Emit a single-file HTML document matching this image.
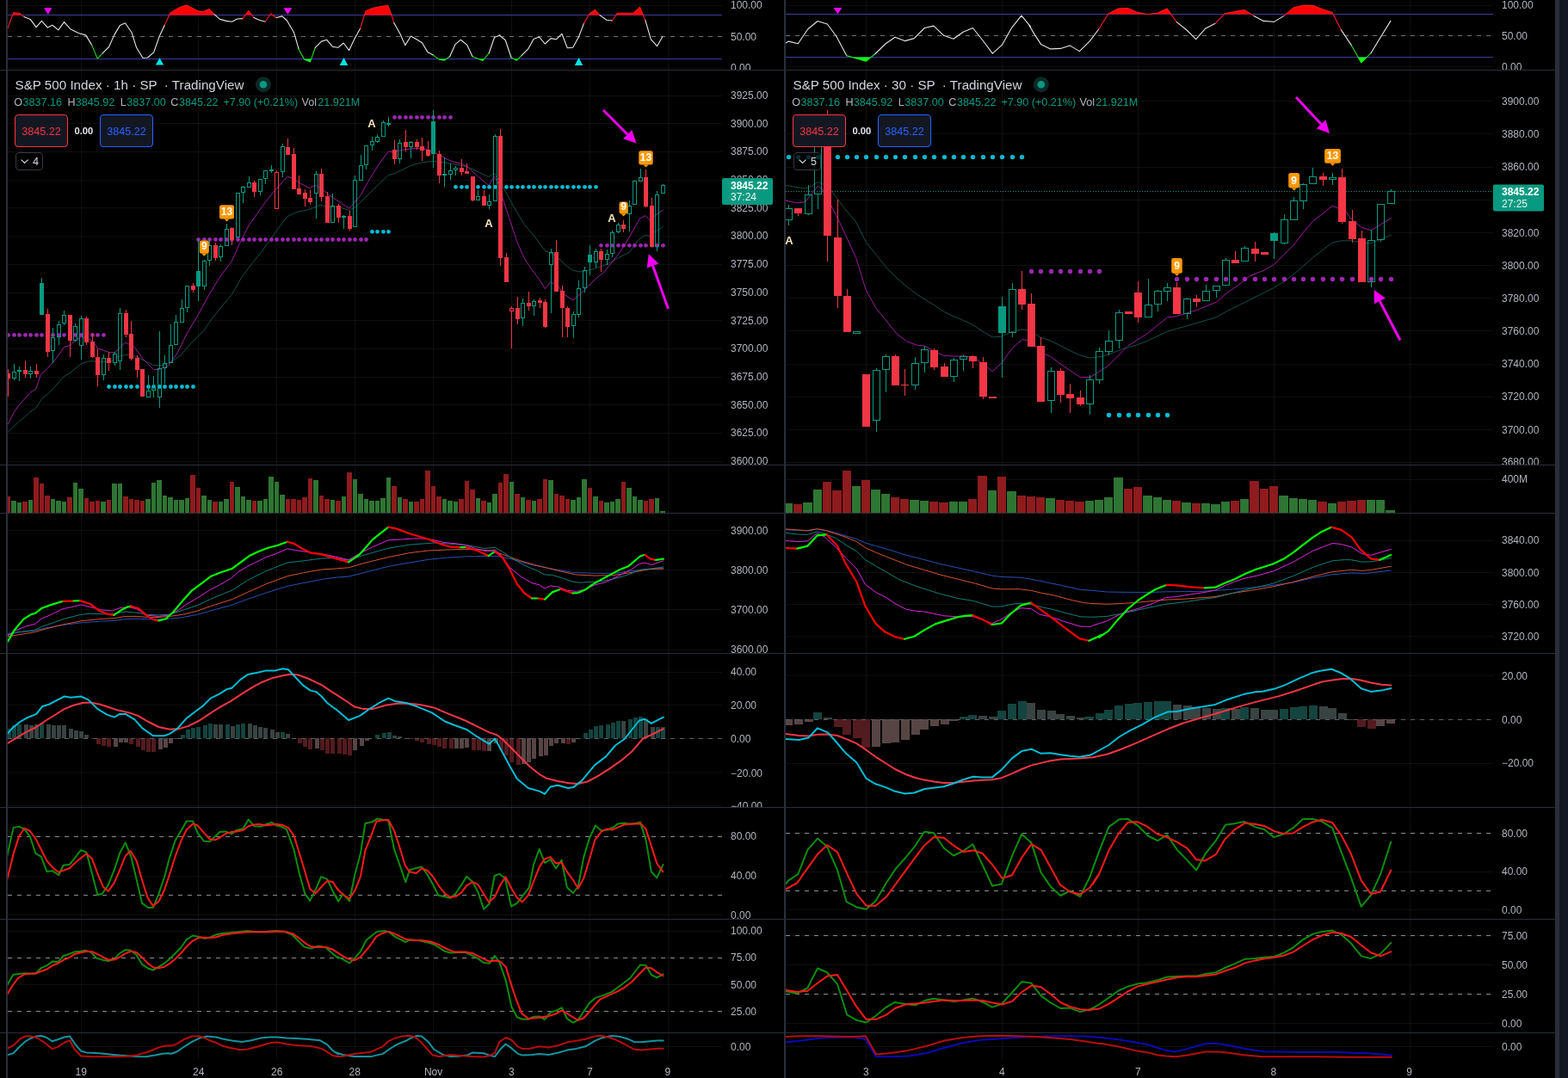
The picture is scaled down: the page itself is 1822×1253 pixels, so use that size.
<!DOCTYPE html>
<html><head><meta charset="utf-8"><title>S&amp;P 500 Index charts</title>
<style>
html,body{margin:0;padding:0;background:#000;overflow:hidden;}
svg{display:block;}
text{font-family:"Liberation Sans",Arial,sans-serif;}
</style></head><body>
<svg width="1822" height="1253" viewBox="0 0 1822 1253">
<rect width="1822" height="1253" fill="#000"/>
<rect x="94" y="0" width="1" height="1231" fill="rgba(255,255,255,0.06)"/>
<rect x="230" y="0" width="1" height="1231" fill="rgba(255,255,255,0.06)"/>
<rect x="321" y="0" width="1" height="1231" fill="rgba(255,255,255,0.06)"/>
<rect x="412" y="0" width="1" height="1231" fill="rgba(255,255,255,0.06)"/>
<rect x="503" y="0" width="1" height="1231" fill="rgba(255,255,255,0.06)"/>
<rect x="594" y="0" width="1" height="1231" fill="rgba(255,255,255,0.06)"/>
<rect x="685" y="0" width="1" height="1231" fill="rgba(255,255,255,0.06)"/>
<rect x="776" y="0" width="1" height="1231" fill="rgba(255,255,255,0.06)"/>
<rect x="1006" y="0" width="1" height="1231" fill="rgba(255,255,255,0.06)"/>
<rect x="1164" y="0" width="1" height="1231" fill="rgba(255,255,255,0.06)"/>
<rect x="1322" y="0" width="1" height="1231" fill="rgba(255,255,255,0.06)"/>
<rect x="1480" y="0" width="1" height="1231" fill="rgba(255,255,255,0.06)"/>
<rect x="1638" y="0" width="1" height="1231" fill="rgba(255,255,255,0.06)"/>
<rect x="9" y="6" width="830" height="1" fill="rgba(255,255,255,0.06)"/>
<rect x="9" y="42" width="830" height="1" fill="rgba(255,255,255,0.06)"/>
<rect x="9" y="79" width="830" height="1" fill="rgba(255,255,255,0.06)"/>
<rect x="9" y="111" width="830" height="1" fill="rgba(255,255,255,0.06)"/>
<rect x="9" y="143" width="830" height="1" fill="rgba(255,255,255,0.06)"/>
<rect x="9" y="176" width="830" height="1" fill="rgba(255,255,255,0.06)"/>
<rect x="9" y="209" width="830" height="1" fill="rgba(255,255,255,0.06)"/>
<rect x="9" y="241" width="830" height="1" fill="rgba(255,255,255,0.06)"/>
<rect x="9" y="274" width="830" height="1" fill="rgba(255,255,255,0.06)"/>
<rect x="9" y="307" width="830" height="1" fill="rgba(255,255,255,0.06)"/>
<rect x="9" y="340" width="830" height="1" fill="rgba(255,255,255,0.06)"/>
<rect x="9" y="372" width="830" height="1" fill="rgba(255,255,255,0.06)"/>
<rect x="9" y="405" width="830" height="1" fill="rgba(255,255,255,0.06)"/>
<rect x="9" y="438" width="830" height="1" fill="rgba(255,255,255,0.06)"/>
<rect x="9" y="470" width="830" height="1" fill="rgba(255,255,255,0.06)"/>
<rect x="9" y="503" width="830" height="1" fill="rgba(255,255,255,0.06)"/>
<rect x="9" y="536" width="830" height="1" fill="rgba(255,255,255,0.06)"/>
<rect x="9" y="616" width="830" height="1" fill="rgba(255,255,255,0.06)"/>
<rect x="9" y="662" width="830" height="1" fill="rgba(255,255,255,0.06)"/>
<rect x="9" y="708" width="830" height="1" fill="rgba(255,255,255,0.06)"/>
<rect x="9" y="755" width="830" height="1" fill="rgba(255,255,255,0.06)"/>
<rect x="9" y="781" width="830" height="1" fill="rgba(255,255,255,0.06)"/>
<rect x="9" y="819" width="830" height="1" fill="rgba(255,255,255,0.06)"/>
<rect x="9" y="858" width="830" height="1" fill="rgba(255,255,255,0.06)"/>
<rect x="9" y="897" width="830" height="1" fill="rgba(255,255,255,0.06)"/>
<rect x="9" y="936" width="830" height="1" fill="rgba(255,255,255,0.06)"/>
<rect x="9" y="972" width="830" height="1" fill="rgba(255,255,255,0.06)"/>
<rect x="9" y="1018" width="830" height="1" fill="rgba(255,255,255,0.06)"/>
<rect x="9" y="1063" width="830" height="1" fill="rgba(255,255,255,0.06)"/>
<rect x="9" y="1082" width="830" height="1" fill="rgba(255,255,255,0.06)"/>
<rect x="9" y="1113" width="830" height="1" fill="rgba(255,255,255,0.06)"/>
<rect x="9" y="1144" width="830" height="1" fill="rgba(255,255,255,0.06)"/>
<rect x="9" y="1175" width="830" height="1" fill="rgba(255,255,255,0.06)"/>
<rect x="9" y="1216" width="830" height="1" fill="rgba(255,255,255,0.06)"/>
<rect x="913" y="6" width="822" height="1" fill="rgba(255,255,255,0.06)"/>
<rect x="913" y="41" width="822" height="1" fill="rgba(255,255,255,0.06)"/>
<rect x="913" y="77" width="822" height="1" fill="rgba(255,255,255,0.06)"/>
<rect x="913" y="117" width="822" height="1" fill="rgba(255,255,255,0.06)"/>
<rect x="913" y="155" width="822" height="1" fill="rgba(255,255,255,0.06)"/>
<rect x="913" y="194" width="822" height="1" fill="rgba(255,255,255,0.06)"/>
<rect x="913" y="232" width="822" height="1" fill="rgba(255,255,255,0.06)"/>
<rect x="913" y="270" width="822" height="1" fill="rgba(255,255,255,0.06)"/>
<rect x="913" y="308" width="822" height="1" fill="rgba(255,255,255,0.06)"/>
<rect x="913" y="346" width="822" height="1" fill="rgba(255,255,255,0.06)"/>
<rect x="913" y="384" width="822" height="1" fill="rgba(255,255,255,0.06)"/>
<rect x="913" y="423" width="822" height="1" fill="rgba(255,255,255,0.06)"/>
<rect x="913" y="461" width="822" height="1" fill="rgba(255,255,255,0.06)"/>
<rect x="913" y="499" width="822" height="1" fill="rgba(255,255,255,0.06)"/>
<rect x="913" y="537" width="822" height="1" fill="rgba(255,255,255,0.06)"/>
<rect x="913" y="557" width="822" height="1" fill="rgba(255,255,255,0.06)"/>
<rect x="913" y="628" width="822" height="1" fill="rgba(255,255,255,0.06)"/>
<rect x="913" y="665" width="822" height="1" fill="rgba(255,255,255,0.06)"/>
<rect x="913" y="702" width="822" height="1" fill="rgba(255,255,255,0.06)"/>
<rect x="913" y="739" width="822" height="1" fill="rgba(255,255,255,0.06)"/>
<rect x="913" y="785" width="822" height="1" fill="rgba(255,255,255,0.06)"/>
<rect x="913" y="836" width="822" height="1" fill="rgba(255,255,255,0.06)"/>
<rect x="913" y="887" width="822" height="1" fill="rgba(255,255,255,0.06)"/>
<rect x="913" y="968" width="822" height="1" fill="rgba(255,255,255,0.06)"/>
<rect x="913" y="1013" width="822" height="1" fill="rgba(255,255,255,0.06)"/>
<rect x="913" y="1057" width="822" height="1" fill="rgba(255,255,255,0.06)"/>
<rect x="913" y="1087" width="822" height="1" fill="rgba(255,255,255,0.06)"/>
<rect x="913" y="1121" width="822" height="1" fill="rgba(255,255,255,0.06)"/>
<rect x="913" y="1155" width="822" height="1" fill="rgba(255,255,255,0.06)"/>
<rect x="913" y="1189" width="822" height="1" fill="rgba(255,255,255,0.06)"/>
<rect x="913" y="1216" width="822" height="1" fill="rgba(255,255,255,0.06)"/>
<line x1="9" y1="17.5" x2="839" y2="17.5" stroke="#3c3c9c" stroke-width="1"/>
<line x1="9" y1="68.5" x2="839" y2="68.5" stroke="#3c3c9c" stroke-width="1"/>
<line x1="9" y1="42.5" x2="839" y2="42.5" stroke="#6f7079" stroke-width="1" stroke-dasharray="5,6"/>
<line x1="913" y1="16.5" x2="1735" y2="16.5" stroke="#3c3c9c" stroke-width="1"/>
<line x1="913" y1="66.5" x2="1735" y2="66.5" stroke="#3c3c9c" stroke-width="1"/>
<line x1="913" y1="41.5" x2="1735" y2="41.5" stroke="#6f7079" stroke-width="1" stroke-dasharray="5,6"/>
<polygon points="14.7,17.5 15.7,14.7 22.4,15.2 25.4,17.5" fill="#ff0000"/>
<polygon points="196.7,17.5 197.9,14.9 206.7,9.6 214.7,6.4 217.9,6.4 223.5,9.6 230,12.8 236.4,13.6 242.8,10.4 249.2,16.8 249.2,16.8 250,17.5" fill="#ff0000"/>
<polygon points="285.1,17.5 288.8,12.5 292.6,17.5" fill="#ff0000"/>
<polygon points="313.7,17.5 314.7,16 316.8,17.5" fill="#ff0000"/>
<polygon points="423.5,17.5 424.8,13.1 432.8,9.6 444,7.2 450.8,6.4 454.5,16 454.9,17.5" fill="#ff0000"/>
<polygon points="684.1,17.5 685,16 691.4,11.5 696.9,17.5" fill="#ff0000"/>
<polygon points="715.9,17.5 717.5,15.2 724.2,15.2 736.2,15.2 743.5,8.3 747.3,17.5" fill="#ff0000"/>
<polygon points="353.3,68.5 353.5,68.9 360.4,72.1 361.7,68.5" fill="#00ff00"/>
<polygon points="509.2,68.5 509.7,68.9 516.2,70.2 518.6,68.5" fill="#00ff00"/>
<polygon points="556,68.5 561,70.5 562.7,68.5" fill="#00ff00"/>
<polygon points="597.1,68.5 600.5,70.2 602.2,68.5" fill="#00ff00"/>
<polyline points="8,35.3 15.7,14.7 22.4,15.2 28,19.6" fill="none" stroke="#ff1a1a" stroke-width="1.1" stroke-linejoin="round" stroke-linecap="round"/>
<polyline points="28,19.6 35.2,22.4 42,31.6 48.4,24.4 55.3,32.1 60.9,29.3 67.8,34.9 74.5,25.6 81.7,33.7 91.3,38.5 99.7,40.9 106.6,52.1" fill="none" stroke="#e6e6e6" stroke-width="1.1" stroke-linejoin="round" stroke-linecap="round"/>
<polyline points="106.6,52.1 113.3,68.1 119.4,61.7" fill="none" stroke="#22e022" stroke-width="1.1" stroke-linejoin="round" stroke-linecap="round"/>
<polyline points="119.4,61.7 126.6,54.5 133,40.1 139.4,29.6 145.5,26.8 153,37.7 158.6,55.3 165.9,67.3 171.5,67 178.7,60.9 185.1,42.5 191.5,28.8" fill="none" stroke="#e6e6e6" stroke-width="1.1" stroke-linejoin="round" stroke-linecap="round"/>
<polyline points="191.5,28.8 197.9,14.9 206.7,9.6 214.7,6.4 217.9,6.4 223.5,9.6 230,12.8 236.4,13.6 242.8,10.4 249.2,16.8" fill="none" stroke="#ff1a1a" stroke-width="1.1" stroke-linejoin="round" stroke-linecap="round"/>
<polyline points="249.2,16.8 255.6,22.4 262.8,24.4 269.5,25.3 275.6,22 282,21.6" fill="none" stroke="#e6e6e6" stroke-width="1.1" stroke-linejoin="round" stroke-linecap="round"/>
<polyline points="282,21.6 288.8,12.5 294.9,20.4" fill="none" stroke="#ff1a1a" stroke-width="1.1" stroke-linejoin="round" stroke-linecap="round"/>
<polyline points="294.9,20.4 300,22.8 301.4,23.2 308.1,25.2" fill="none" stroke="#e6e6e6" stroke-width="1.1" stroke-linejoin="round" stroke-linecap="round"/>
<polyline points="308.1,25.2 314.7,16 321,20.5" fill="none" stroke="#ff1a1a" stroke-width="1.1" stroke-linejoin="round" stroke-linecap="round"/>
<polyline points="321,20.5 327.9,18.9 333.5,24 341.5,37.7 347.1,56.9" fill="none" stroke="#e6e6e6" stroke-width="1.1" stroke-linejoin="round" stroke-linecap="round"/>
<polyline points="347.1,56.9 353.5,68.9 360.4,72.1 366.3,55.3" fill="none" stroke="#22e022" stroke-width="1.1" stroke-linejoin="round" stroke-linecap="round"/>
<polyline points="366.3,55.3 373.5,48.1 379.6,46.2 386.3,54.2 392.8,55.3 399.2,50 405.6,58.5 412,44.9 418.7,32.9" fill="none" stroke="#e6e6e6" stroke-width="1.1" stroke-linejoin="round" stroke-linecap="round"/>
<polyline points="418.7,32.9 424.8,13.1 432.8,9.6 444,7.2 450.8,6.4 454.5,16 457.7,26.4" fill="none" stroke="#ff1a1a" stroke-width="1.1" stroke-linejoin="round" stroke-linecap="round"/>
<polyline points="457.7,26.4 464.9,39.3 470.8,52.6 477.4,42 484.1,45.7 490.5,49.7 496.9,60.6 503.3,64.1" fill="none" stroke="#e6e6e6" stroke-width="1.1" stroke-linejoin="round" stroke-linecap="round"/>
<polyline points="503.3,64.1 509.7,68.9 516.2,70.2 522.6,65.7" fill="none" stroke="#22e022" stroke-width="1.1" stroke-linejoin="round" stroke-linecap="round"/>
<polyline points="522.6,65.7 529,51.6 535.4,46.2 542.6,52.1 549,65.7" fill="none" stroke="#e6e6e6" stroke-width="1.1" stroke-linejoin="round" stroke-linecap="round"/>
<polyline points="549,65.7 561,70.5 568.2,61.7" fill="none" stroke="#22e022" stroke-width="1.1" stroke-linejoin="round" stroke-linecap="round"/>
<polyline points="568.2,61.7 574.6,43.3 581.1,40.9 580,40.9 587.2,46.5 594.1,67" fill="none" stroke="#e6e6e6" stroke-width="1.1" stroke-linejoin="round" stroke-linecap="round"/>
<polyline points="594.1,67 600.5,70.2 606.4,64.1" fill="none" stroke="#22e022" stroke-width="1.1" stroke-linejoin="round" stroke-linecap="round"/>
<polyline points="606.4,64.1 613.7,56.9 620.1,45.2 626.5,42.9 633.2,51 640.1,44.6 646.5,45.7 652.9,39.3 659.3,55.8 665.7,55.3 672.6,42.5 678.6,26.9" fill="none" stroke="#e6e6e6" stroke-width="1.1" stroke-linejoin="round" stroke-linecap="round"/>
<polyline points="678.6,26.9 685,16 691.4,11.5 697,17.6" fill="none" stroke="#ff1a1a" stroke-width="1.1" stroke-linejoin="round" stroke-linecap="round"/>
<polyline points="697,17.6 704.7,23.2 711.4,24" fill="none" stroke="#e6e6e6" stroke-width="1.1" stroke-linejoin="round" stroke-linecap="round"/>
<polyline points="711.4,24 717.5,15.2 724.2,15.2 736.2,15.2 743.5,8.3 749.9,23.7" fill="none" stroke="#ff1a1a" stroke-width="1.1" stroke-linejoin="round" stroke-linecap="round"/>
<polyline points="749.9,23.7 756.3,45.7 763.5,53.7 769.9,42.5" fill="none" stroke="#e6e6e6" stroke-width="1.1" stroke-linejoin="round" stroke-linecap="round"/>
<polygon points="1287.7,16.5 1287.9,16 1299.2,10.1 1310.4,9.6 1321.6,14.4 1332.8,16.5" fill="#ff0000"/>
<polygon points="1332.9,16.5 1344.8,15.2 1356.1,10.1 1360.7,16.5" fill="#ff0000"/>
<polygon points="1422.6,16.5 1423.4,15.7 1434.6,13.6 1445.8,11.5 1453.9,16.5" fill="#ff0000"/>
<polygon points="1494.3,16.5 1503.2,8.8 1514.5,6.4 1525.7,6.4 1536.9,10.7 1548.1,14.4 1549.2,16.5" fill="#ff0000"/>
<polygon points="990.1,66.5 1006.2,71.3 1012.1,66.5" fill="#00ff00"/>
<polygon points="1578.2,66.5 1581.8,72.9 1588.2,66.5" fill="#00ff00"/>
<polyline points="912.9,50 916.4,48.1 927.3,50.8 938.8,33.7 950.1,24.5 961.3,28 971.7,42 983.7,64.6" fill="none" stroke="#e6e6e6" stroke-width="1.1" stroke-linejoin="round" stroke-linecap="round"/>
<polyline points="983.7,64.6 1006.2,71.3 1017.1,62.5" fill="none" stroke="#22e022" stroke-width="1.1" stroke-linejoin="round" stroke-linecap="round"/>
<polyline points="1017.1,62.5 1029.4,50.5 1040.1,43.3 1051.3,47.6 1062.2,44.6 1074.3,32.5 1085,30.1 1096.7,41.3 1107.9,45.2 1119.1,37.2 1130.4,32.5 1141.6,46.5 1153.3,62.2 1164.5,52.1 1175.7,32.1 1186.9,18.1 1197.7,31.2 1195,28 1202.2,40.1 1209.7,51.6 1220.6,56.9 1232.2,56.4 1243.1,52.9 1254.3,59.6 1266.3,47.8 1276.7,34" fill="none" stroke="#e6e6e6" stroke-width="1.1" stroke-linejoin="round" stroke-linecap="round"/>
<polyline points="1276.7,34 1287.9,16 1299.2,10.1 1310.4,9.6 1321.6,14.4 1332.8,16.5 1344.8,15.2 1356.1,10.1 1367.3,25.6" fill="none" stroke="#ff1a1a" stroke-width="1.1" stroke-linejoin="round" stroke-linecap="round"/>
<polyline points="1367.3,25.6 1378.5,34.5 1389.7,45.7 1400.9,32.9 1412.1,27.2" fill="none" stroke="#e6e6e6" stroke-width="1.1" stroke-linejoin="round" stroke-linecap="round"/>
<polyline points="1412.1,27.2 1423.4,15.7 1434.6,13.6 1445.8,11.5 1457,18.4" fill="none" stroke="#ff1a1a" stroke-width="1.1" stroke-linejoin="round" stroke-linecap="round"/>
<polyline points="1457,18.4 1468.2,24.4 1479.5,25.3 1480,25.6 1492,18.4" fill="none" stroke="#e6e6e6" stroke-width="1.1" stroke-linejoin="round" stroke-linecap="round"/>
<polyline points="1492,18.4 1503.2,8.8 1514.5,6.4 1525.7,6.4 1536.9,10.7 1548.1,14.4 1558.5,34.9" fill="none" stroke="#ff1a1a" stroke-width="1.1" stroke-linejoin="round" stroke-linecap="round"/>
<polyline points="1558.5,34.9 1570.5,52.9" fill="none" stroke="#e6e6e6" stroke-width="1.1" stroke-linejoin="round" stroke-linecap="round"/>
<polyline points="1570.5,52.9 1581.8,72.9 1593,61.7" fill="none" stroke="#22e022" stroke-width="1.1" stroke-linejoin="round" stroke-linecap="round"/>
<polyline points="1593,61.7 1604.2,43.3 1615.9,24.4" fill="none" stroke="#e6e6e6" stroke-width="1.1" stroke-linejoin="round" stroke-linecap="round"/>
<polygon points="51,9.3 60.5,9.3 55.8,16.8" fill="#f200f2"/>
<polygon points="329.5,9.3 339.4,9.3 334.4,16.8" fill="#f200f2"/>
<polygon points="968.5,9.1 978.4,9.1 973.5,16.3" fill="#f200f2"/>
<polygon points="180.8,75.6 190.2,75.6 185.5,67.3" fill="#00e5e5"/>
<polygon points="394.7,76 404.3,76 399.5,67" fill="#00e5e5"/>
<polygon points="667.8,76 677.3,76 672.5,67" fill="#00e5e5"/>
<polyline points="9.2,502.3 14.4,497.1 21.5,490.3 27.9,485.5 33.8,479.6 41.9,474.2 48.7,463.3 55.5,457.9 62.3,451.1 74.5,437.5 81.3,433.5 88.1,428 94.8,422.6 101.6,420.2 107.1,419.6 113.8,420.6 120.6,420.6 130.1,419.9 135,415.2 147.5,412.1 157.8,414.2 168.2,419.4 178.6,424.6 189,424.6 197.3,421.5 209.8,413.1 222.2,398.6 236.8,384.1 247.1,369.5 264.1,348.3 270.3,341 280.7,322.3 293.2,305.7 303.5,293.2 313.9,278.7 324.3,264.1 333.7,251.7 345.1,246.5 359.6,243.4 372.1,238.2 380.4,240.3 392.2,240.3 405.7,244.4 415,239.2 429.5,224.7 439.9,214.3 451.3,203.5 458.6,201.8 466.9,197.7 477.3,192.5 487.7,189.4 498.1,187.7 504.3,187.3 522.3,189.7 543.1,193.8 555.5,200 568,205.6 574.2,201.1 584.6,217.7 597.1,240.5 609.5,261.3 622,275.8 633.4,291.4 642.1,295.2 648.3,299.4 656.6,307.7 664.9,313.9 673.2,316 685.6,313.9 698.1,309.8 706.4,306.6 718.8,299.4 731.3,293.2 741.7,278.6 750,273.4 755.1,274.5 762.4,268.3 770.3,263.7" fill="none" stroke="#144f46" stroke-width="1" stroke-linejoin="round" stroke-linecap="round"/>
<polyline points="9.2,493.1 12.8,486.3 16.1,479.6 21.6,471.5 35.1,456.5 41.9,451.8 47.3,435.5 55.5,428 61.6,421.3 68.4,412.4 74.5,403.4 80.6,401.6 87.4,396.2 94.4,391.4 101.6,393.4 107.7,396.8 113.8,405 120.6,407.4 127.4,409.7 133.5,409.7 145.4,398.2 155.8,402.8 166.2,417.3 178.6,429.8 184.8,429.3 195.2,425.6 205.6,411.1 218.1,386.1 230.5,365.4 243,342.5 255.5,321.8 266.2,307.8 269.3,303.6 278.6,282.8 289,262.1 299.4,247.5 309.8,233 320.2,220.5 328.5,211.2 334.3,205 340.9,208.1 349.2,213.3 359.6,218.5 366.9,215.3 374.1,219.5 382.5,226.8 396.3,236.1 405.7,242.3 419.2,226.8 429.5,208.1 439.9,191.5 451.3,175.9 456.5,176.9 464.8,174.8 477.3,172.8 485.6,172.4 493.9,173.2 504.3,176.9 522.3,186.5 536.8,190.7 543.1,193.8 555.5,205.2 568,215.6 574.2,205.2 578.4,211.5 584.6,232.2 592.9,257.1 601.2,282.1 609.5,300.8 617.8,313.2 627.2,325.7 633.4,335.7 639.6,327.8 648.3,332.6 656.6,342.9 665.9,348.8 675.3,340.9 683.6,332.6 691.9,324.3 702.2,316 710.5,305.6 718.8,295.2 727.1,282.8 735.4,268.3 743.7,253.7 750,250.6 755.1,255.8 762.4,249.6 770.3,244.4" fill="none" stroke="#9a1c9e" stroke-width="1" stroke-linejoin="round" stroke-linecap="round"/>
<polyline points="912,215.3 923.8,217.3 935.6,219.1 944.5,215.3 950.4,211.7 956.3,213.8 968.1,224.1 979.9,240.4 994.6,258.1 1006.5,281.7 1018.3,296.4 1030.1,311.2 1041.9,323 1053.7,333.3 1065.5,342.2 1086.2,355.1 1097.3,362.6 1108.5,367.8 1119.7,372.6 1130.1,377.4 1142,385.4 1153.2,391.8 1163.6,391.3 1174,386.2 1187.5,382.7 1193.9,383.8 1203.5,388.6 1209.1,392.3 1220.3,395.8 1229.8,400.6 1246.7,409.2 1253.4,412.4 1266.8,416.1 1281.9,414.1 1307.1,404.8 1322.1,400.6 1333.9,396 1356.5,385.2 1374.1,380.2 1390.9,375.5 1413.4,368.7 1426.8,361.1 1446.9,351.1 1463.7,342.7 1480.4,334.3 1493.9,325.9 1508.9,314.2 1525.7,299.1 1539.1,289 1548.3,282 1559.2,279.8 1571,279.8 1574.8,280.6 1592.2,283 1604.5,278.1 1616.4,273.1" fill="none" stroke="#144f46" stroke-width="1" stroke-linejoin="round" stroke-linecap="round"/>
<polyline points="912,233 926.8,235.9 935.6,234.5 943,225.6 950.4,216.2 956.3,221.2 965.1,237.4 976.9,261 994.6,299.4 1006.5,337.8 1018.3,358.4 1030.1,373.2 1041.9,387.9 1053.7,396.8 1065.5,401.2 1074.3,402.1 1086.2,408.5 1096.5,413.3 1108.5,414.1 1119.7,414.1 1130.9,414.9 1142,422.9 1153.2,431.7 1164.4,421.3 1176.4,404.5 1187.5,394.7 1193.9,395.5 1202.7,402.2 1213.9,411.7 1220.3,414.1 1229.8,421.3 1245,431.7 1255.1,438.4 1266.8,438.4 1286.9,425.8 1310.4,402.3 1333.9,387.2 1356.5,368.8 1367.4,367.5 1390.9,360.4 1413.4,351.1 1425.1,341 1438.5,331.8 1451.9,320.9 1468.7,314.2 1480.4,307.5 1492.2,295.7 1503.9,284 1514,270.6 1525.7,256.8 1537.4,248 1548.3,239.1 1564.3,246.3 1569.9,254.6 1582.3,264.5 1593.4,267.7 1604.5,260.8 1616.4,253.4" fill="none" stroke="#9a1c9e" stroke-width="1" stroke-linejoin="round" stroke-linecap="round"/>
<line x1="913" y1="222.5" x2="1735" y2="222.5" stroke="#1e8f7f" stroke-width="1" stroke-dasharray="1,2"/>
<circle cx="9.5" cy="389.4" r="2.4" fill="#9c27b0"/>
<circle cx="16.5" cy="389.4" r="2.4" fill="#9c27b0"/>
<circle cx="22.5" cy="389.4" r="2.4" fill="#9c27b0"/>
<circle cx="29.5" cy="389.4" r="2.4" fill="#9c27b0"/>
<circle cx="35.5" cy="389.4" r="2.4" fill="#9c27b0"/>
<circle cx="42.5" cy="389.4" r="2.4" fill="#9c27b0"/>
<circle cx="48.5" cy="389.4" r="2.4" fill="#9c27b0"/>
<circle cx="55.5" cy="389.4" r="2.4" fill="#9c27b0"/>
<circle cx="61.5" cy="389.4" r="2.4" fill="#9c27b0"/>
<circle cx="68.5" cy="389.4" r="2.4" fill="#9c27b0"/>
<circle cx="74.5" cy="389.4" r="2.4" fill="#9c27b0"/>
<circle cx="81.5" cy="389.4" r="2.4" fill="#9c27b0"/>
<circle cx="87.5" cy="389.4" r="2.4" fill="#9c27b0"/>
<circle cx="94.5" cy="389.4" r="2.4" fill="#9c27b0"/>
<circle cx="100.5" cy="389.4" r="2.4" fill="#9c27b0"/>
<circle cx="107.5" cy="389.4" r="2.4" fill="#9c27b0"/>
<circle cx="113.5" cy="389.4" r="2.4" fill="#9c27b0"/>
<circle cx="120.5" cy="389.4" r="2.4" fill="#9c27b0"/>
<circle cx="230.5" cy="278.5" r="2.4" fill="#9c27b0"/>
<circle cx="237.5" cy="278.5" r="2.4" fill="#9c27b0"/>
<circle cx="243.5" cy="278.5" r="2.4" fill="#9c27b0"/>
<circle cx="250.5" cy="278.5" r="2.4" fill="#9c27b0"/>
<circle cx="256.5" cy="278.5" r="2.4" fill="#9c27b0"/>
<circle cx="263.5" cy="278.5" r="2.4" fill="#9c27b0"/>
<circle cx="269.5" cy="278.5" r="2.4" fill="#9c27b0"/>
<circle cx="276.5" cy="278.5" r="2.4" fill="#9c27b0"/>
<circle cx="282.5" cy="278.5" r="2.4" fill="#9c27b0"/>
<circle cx="289.5" cy="278.5" r="2.4" fill="#9c27b0"/>
<circle cx="295.5" cy="278.5" r="2.4" fill="#9c27b0"/>
<circle cx="302.5" cy="278.5" r="2.4" fill="#9c27b0"/>
<circle cx="308.5" cy="278.5" r="2.4" fill="#9c27b0"/>
<circle cx="315.5" cy="278.5" r="2.4" fill="#9c27b0"/>
<circle cx="321.5" cy="278.5" r="2.4" fill="#9c27b0"/>
<circle cx="328.5" cy="278.5" r="2.4" fill="#9c27b0"/>
<circle cx="334.5" cy="278.5" r="2.4" fill="#9c27b0"/>
<circle cx="341.5" cy="278.5" r="2.4" fill="#9c27b0"/>
<circle cx="347.5" cy="278.5" r="2.4" fill="#9c27b0"/>
<circle cx="354.5" cy="278.5" r="2.4" fill="#9c27b0"/>
<circle cx="360.5" cy="278.5" r="2.4" fill="#9c27b0"/>
<circle cx="367.5" cy="278.5" r="2.4" fill="#9c27b0"/>
<circle cx="373.5" cy="278.5" r="2.4" fill="#9c27b0"/>
<circle cx="380.5" cy="278.5" r="2.4" fill="#9c27b0"/>
<circle cx="386.5" cy="278.5" r="2.4" fill="#9c27b0"/>
<circle cx="393.5" cy="278.5" r="2.4" fill="#9c27b0"/>
<circle cx="399.5" cy="278.5" r="2.4" fill="#9c27b0"/>
<circle cx="406.5" cy="278.5" r="2.4" fill="#9c27b0"/>
<circle cx="412.5" cy="278.5" r="2.4" fill="#9c27b0"/>
<circle cx="419.5" cy="278.5" r="2.4" fill="#9c27b0"/>
<circle cx="425.5" cy="278.5" r="2.4" fill="#9c27b0"/>
<circle cx="458.5" cy="136.4" r="2.4" fill="#9c27b0"/>
<circle cx="464.5" cy="136.4" r="2.4" fill="#9c27b0"/>
<circle cx="471.5" cy="136.4" r="2.4" fill="#9c27b0"/>
<circle cx="477.5" cy="136.4" r="2.4" fill="#9c27b0"/>
<circle cx="484.5" cy="136.4" r="2.4" fill="#9c27b0"/>
<circle cx="490.5" cy="136.4" r="2.4" fill="#9c27b0"/>
<circle cx="497.5" cy="136.4" r="2.4" fill="#9c27b0"/>
<circle cx="503.5" cy="136.4" r="2.4" fill="#9c27b0"/>
<circle cx="510.5" cy="136.4" r="2.4" fill="#9c27b0"/>
<circle cx="516.5" cy="136.4" r="2.4" fill="#9c27b0"/>
<circle cx="523.5" cy="136.4" r="2.4" fill="#9c27b0"/>
<circle cx="698.5" cy="285.3" r="2.4" fill="#9c27b0"/>
<circle cx="705.5" cy="285.3" r="2.4" fill="#9c27b0"/>
<circle cx="711.5" cy="285.3" r="2.4" fill="#9c27b0"/>
<circle cx="718.5" cy="285.3" r="2.4" fill="#9c27b0"/>
<circle cx="724.5" cy="285.3" r="2.4" fill="#9c27b0"/>
<circle cx="731.5" cy="285.3" r="2.4" fill="#9c27b0"/>
<circle cx="737.5" cy="285.3" r="2.4" fill="#9c27b0"/>
<circle cx="744.5" cy="285.3" r="2.4" fill="#9c27b0"/>
<circle cx="750.5" cy="285.3" r="2.4" fill="#9c27b0"/>
<circle cx="757.5" cy="285.3" r="2.4" fill="#9c27b0"/>
<circle cx="763.5" cy="285.3" r="2.4" fill="#9c27b0"/>
<circle cx="770.5" cy="285.3" r="2.4" fill="#9c27b0"/>
<circle cx="126.5" cy="449.5" r="2.4" fill="#00bcd4"/>
<circle cx="133.5" cy="449.5" r="2.4" fill="#00bcd4"/>
<circle cx="139.5" cy="449.5" r="2.4" fill="#00bcd4"/>
<circle cx="146.5" cy="449.5" r="2.4" fill="#00bcd4"/>
<circle cx="152.5" cy="449.5" r="2.4" fill="#00bcd4"/>
<circle cx="159.5" cy="449.5" r="2.4" fill="#00bcd4"/>
<circle cx="165.5" cy="449.5" r="2.4" fill="#00bcd4"/>
<circle cx="172.5" cy="449.5" r="2.4" fill="#00bcd4"/>
<circle cx="178.5" cy="449.5" r="2.4" fill="#00bcd4"/>
<circle cx="185.5" cy="449.5" r="2.4" fill="#00bcd4"/>
<circle cx="191.5" cy="449.5" r="2.4" fill="#00bcd4"/>
<circle cx="198.5" cy="449.5" r="2.4" fill="#00bcd4"/>
<circle cx="204.5" cy="449.5" r="2.4" fill="#00bcd4"/>
<circle cx="211.5" cy="449.5" r="2.4" fill="#00bcd4"/>
<circle cx="217.5" cy="449.5" r="2.4" fill="#00bcd4"/>
<circle cx="224.5" cy="449.5" r="2.4" fill="#00bcd4"/>
<circle cx="432.5" cy="269.3" r="2.4" fill="#00bcd4"/>
<circle cx="438.5" cy="269.3" r="2.4" fill="#00bcd4"/>
<circle cx="445.5" cy="269.3" r="2.4" fill="#00bcd4"/>
<circle cx="451.5" cy="269.3" r="2.4" fill="#00bcd4"/>
<circle cx="529.5" cy="217.3" r="2.4" fill="#00bcd4"/>
<circle cx="536.5" cy="217.3" r="2.4" fill="#00bcd4"/>
<circle cx="542.5" cy="217.3" r="2.4" fill="#00bcd4"/>
<circle cx="549.5" cy="217.3" r="2.4" fill="#00bcd4"/>
<circle cx="555.5" cy="217.3" r="2.4" fill="#00bcd4"/>
<circle cx="562.5" cy="217.3" r="2.4" fill="#00bcd4"/>
<circle cx="568.5" cy="217.3" r="2.4" fill="#00bcd4"/>
<circle cx="575.5" cy="217.3" r="2.4" fill="#00bcd4"/>
<circle cx="581.5" cy="217.3" r="2.4" fill="#00bcd4"/>
<circle cx="588.5" cy="217.3" r="2.4" fill="#00bcd4"/>
<circle cx="594.5" cy="217.3" r="2.4" fill="#00bcd4"/>
<circle cx="601.5" cy="217.3" r="2.4" fill="#00bcd4"/>
<circle cx="607.5" cy="217.3" r="2.4" fill="#00bcd4"/>
<circle cx="614.5" cy="217.3" r="2.4" fill="#00bcd4"/>
<circle cx="620.5" cy="217.3" r="2.4" fill="#00bcd4"/>
<circle cx="627.5" cy="217.3" r="2.4" fill="#00bcd4"/>
<circle cx="633.5" cy="217.3" r="2.4" fill="#00bcd4"/>
<circle cx="640.5" cy="217.3" r="2.4" fill="#00bcd4"/>
<circle cx="646.5" cy="217.3" r="2.4" fill="#00bcd4"/>
<circle cx="653.5" cy="217.3" r="2.4" fill="#00bcd4"/>
<circle cx="659.5" cy="217.3" r="2.4" fill="#00bcd4"/>
<circle cx="666.5" cy="217.3" r="2.4" fill="#00bcd4"/>
<circle cx="672.5" cy="217.3" r="2.4" fill="#00bcd4"/>
<circle cx="679.5" cy="217.3" r="2.4" fill="#00bcd4"/>
<circle cx="685.5" cy="217.3" r="2.4" fill="#00bcd4"/>
<circle cx="692.5" cy="217.3" r="2.4" fill="#00bcd4"/>
<circle cx="916.5" cy="182.6" r="2.7" fill="#00bcd4"/>
<circle cx="927.5" cy="182.6" r="2.7" fill="#00bcd4"/>
<circle cx="939.5" cy="182.6" r="2.7" fill="#00bcd4"/>
<circle cx="950.5" cy="182.6" r="2.7" fill="#00bcd4"/>
<circle cx="961.5" cy="182.6" r="2.7" fill="#00bcd4"/>
<circle cx="973.5" cy="182.6" r="2.7" fill="#00bcd4"/>
<circle cx="984.5" cy="182.6" r="2.7" fill="#00bcd4"/>
<circle cx="995.5" cy="182.6" r="2.7" fill="#00bcd4"/>
<circle cx="1006.5" cy="182.6" r="2.7" fill="#00bcd4"/>
<circle cx="1018.5" cy="182.6" r="2.7" fill="#00bcd4"/>
<circle cx="1029.5" cy="182.6" r="2.7" fill="#00bcd4"/>
<circle cx="1040.5" cy="182.6" r="2.7" fill="#00bcd4"/>
<circle cx="1051.5" cy="182.6" r="2.7" fill="#00bcd4"/>
<circle cx="1063.5" cy="182.6" r="2.7" fill="#00bcd4"/>
<circle cx="1074.5" cy="182.6" r="2.7" fill="#00bcd4"/>
<circle cx="1085.5" cy="182.6" r="2.7" fill="#00bcd4"/>
<circle cx="1097.5" cy="182.6" r="2.7" fill="#00bcd4"/>
<circle cx="1108.5" cy="182.6" r="2.7" fill="#00bcd4"/>
<circle cx="1119.5" cy="182.6" r="2.7" fill="#00bcd4"/>
<circle cx="1130.5" cy="182.6" r="2.7" fill="#00bcd4"/>
<circle cx="1142.5" cy="182.6" r="2.7" fill="#00bcd4"/>
<circle cx="1153.5" cy="182.6" r="2.7" fill="#00bcd4"/>
<circle cx="1164.5" cy="182.6" r="2.7" fill="#00bcd4"/>
<circle cx="1176.5" cy="182.6" r="2.7" fill="#00bcd4"/>
<circle cx="1187.5" cy="182.6" r="2.7" fill="#00bcd4"/>
<circle cx="1198.5" cy="315.5" r="2.7" fill="#9c27b0"/>
<circle cx="1209.5" cy="315.5" r="2.7" fill="#9c27b0"/>
<circle cx="1221.5" cy="315.5" r="2.7" fill="#9c27b0"/>
<circle cx="1232.5" cy="315.5" r="2.7" fill="#9c27b0"/>
<circle cx="1243.5" cy="315.5" r="2.7" fill="#9c27b0"/>
<circle cx="1255.5" cy="315.5" r="2.7" fill="#9c27b0"/>
<circle cx="1266.5" cy="315.5" r="2.7" fill="#9c27b0"/>
<circle cx="1277.5" cy="315.5" r="2.7" fill="#9c27b0"/>
<circle cx="1288.5" cy="482.5" r="2.7" fill="#00bcd4"/>
<circle cx="1300.5" cy="482.5" r="2.7" fill="#00bcd4"/>
<circle cx="1311.5" cy="482.5" r="2.7" fill="#00bcd4"/>
<circle cx="1322.5" cy="482.5" r="2.7" fill="#00bcd4"/>
<circle cx="1334.5" cy="482.5" r="2.7" fill="#00bcd4"/>
<circle cx="1345.5" cy="482.5" r="2.7" fill="#00bcd4"/>
<circle cx="1356.5" cy="482.5" r="2.7" fill="#00bcd4"/>
<circle cx="1367.5" cy="324.5" r="2.7" fill="#9c27b0"/>
<circle cx="1379.5" cy="324.5" r="2.7" fill="#9c27b0"/>
<circle cx="1390.5" cy="324.5" r="2.7" fill="#9c27b0"/>
<circle cx="1401.5" cy="324.5" r="2.7" fill="#9c27b0"/>
<circle cx="1413.5" cy="324.5" r="2.7" fill="#9c27b0"/>
<circle cx="1424.5" cy="324.5" r="2.7" fill="#9c27b0"/>
<circle cx="1435.5" cy="324.5" r="2.7" fill="#9c27b0"/>
<circle cx="1446.5" cy="324.5" r="2.7" fill="#9c27b0"/>
<circle cx="1458.5" cy="324.5" r="2.7" fill="#9c27b0"/>
<circle cx="1469.5" cy="324.5" r="2.7" fill="#9c27b0"/>
<circle cx="1480.5" cy="324.5" r="2.7" fill="#9c27b0"/>
<circle cx="1492.5" cy="324.5" r="2.7" fill="#9c27b0"/>
<circle cx="1503.5" cy="324.5" r="2.7" fill="#9c27b0"/>
<circle cx="1514.5" cy="324.5" r="2.7" fill="#9c27b0"/>
<circle cx="1525.5" cy="324.5" r="2.7" fill="#9c27b0"/>
<circle cx="1537.5" cy="324.5" r="2.7" fill="#9c27b0"/>
<circle cx="1548.5" cy="324.5" r="2.7" fill="#9c27b0"/>
<circle cx="1559.5" cy="324.5" r="2.7" fill="#9c27b0"/>
<circle cx="1571.5" cy="324.5" r="2.7" fill="#9c27b0"/>
<circle cx="1582.5" cy="324.5" r="2.7" fill="#9c27b0"/>
<circle cx="1593.5" cy="324.5" r="2.7" fill="#9c27b0"/>
<circle cx="1604.5" cy="324.5" r="2.7" fill="#9c27b0"/>
<circle cx="1616.5" cy="324.5" r="2.7" fill="#9c27b0"/>
<rect x="9" y="429" width="1" height="5" fill="#f23645"/>
<rect x="9" y="440" width="1" height="21" fill="#f23645"/>
<rect x="7" y="434" width="5" height="6" fill="#f23645"/>
<rect x="16" y="423" width="1" height="9" fill="#089981"/>
<rect x="16" y="440" width="1" height="2" fill="#089981"/>
<rect x="14.5" y="432.5" width="4" height="7" fill="none" stroke="#089981" stroke-width="1"/>
<rect x="22" y="426" width="1" height="4" fill="#089981"/>
<rect x="22" y="432" width="1" height="11" fill="#089981"/>
<rect x="20.5" y="430.5" width="4" height="1" fill="none" stroke="#089981" stroke-width="1"/>
<rect x="29" y="419" width="1" height="11" fill="#f23645"/>
<rect x="29" y="435" width="1" height="4" fill="#f23645"/>
<rect x="27" y="430" width="5" height="5" fill="#f23645"/>
<rect x="35" y="426" width="1" height="5" fill="#089981"/>
<rect x="35" y="435" width="1" height="5" fill="#089981"/>
<rect x="33.5" y="431.5" width="4" height="3" fill="none" stroke="#089981" stroke-width="1"/>
<rect x="42" y="423" width="1" height="8" fill="#f23645"/>
<rect x="42" y="435" width="1" height="4" fill="#f23645"/>
<rect x="40" y="431" width="5" height="4" fill="#f23645"/>
<rect x="48" y="323" width="1" height="6" fill="#089981"/>
<rect x="46" y="329" width="5" height="37" fill="#089981"/>
<rect x="55" y="359" width="1" height="6" fill="#f23645"/>
<rect x="55" y="409" width="1" height="6" fill="#f23645"/>
<rect x="53" y="365" width="5" height="44" fill="#f23645"/>
<rect x="61" y="381" width="1" height="11" fill="#089981"/>
<rect x="61" y="408" width="1" height="14" fill="#089981"/>
<rect x="59.5" y="392.5" width="4" height="15" fill="none" stroke="#089981" stroke-width="1"/>
<rect x="68" y="373" width="1" height="4" fill="#089981"/>
<rect x="68" y="392" width="1" height="9" fill="#089981"/>
<rect x="66.5" y="377.5" width="4" height="14" fill="none" stroke="#089981" stroke-width="1"/>
<rect x="74" y="361" width="1" height="5" fill="#089981"/>
<rect x="74" y="376" width="1" height="2" fill="#089981"/>
<rect x="72.5" y="366.5" width="4" height="9" fill="none" stroke="#089981" stroke-width="1"/>
<rect x="81" y="396" width="1" height="19" fill="#f23645"/>
<rect x="79" y="366" width="5" height="30" fill="#f23645"/>
<rect x="87" y="376" width="1" height="3" fill="#089981"/>
<rect x="87" y="396" width="1" height="1" fill="#089981"/>
<rect x="85.5" y="379.5" width="4" height="16" fill="none" stroke="#089981" stroke-width="1"/>
<rect x="94" y="367" width="1" height="3" fill="#089981"/>
<rect x="94" y="402" width="1" height="16" fill="#089981"/>
<rect x="92.5" y="370.5" width="4" height="31" fill="none" stroke="#089981" stroke-width="1"/>
<rect x="100" y="368" width="1" height="2" fill="#f23645"/>
<rect x="100" y="398" width="1" height="3" fill="#f23645"/>
<rect x="98" y="370" width="5" height="28" fill="#f23645"/>
<rect x="107" y="387" width="1" height="10" fill="#f23645"/>
<rect x="107" y="415" width="1" height="1" fill="#f23645"/>
<rect x="105" y="397" width="5" height="18" fill="#f23645"/>
<rect x="113" y="406" width="1" height="9" fill="#f23645"/>
<rect x="113" y="436" width="1" height="13" fill="#f23645"/>
<rect x="111" y="415" width="5" height="21" fill="#f23645"/>
<rect x="120" y="412" width="1" height="4" fill="#089981"/>
<rect x="120" y="436" width="1" height="6" fill="#089981"/>
<rect x="118.5" y="416.5" width="4" height="19" fill="none" stroke="#089981" stroke-width="1"/>
<rect x="126" y="409" width="1" height="7" fill="#f23645"/>
<rect x="126" y="422" width="1" height="9" fill="#f23645"/>
<rect x="124" y="416" width="5" height="6" fill="#f23645"/>
<rect x="133" y="409" width="1" height="2" fill="#089981"/>
<rect x="133" y="422" width="1" height="3" fill="#089981"/>
<rect x="131.5" y="411.5" width="4" height="10" fill="none" stroke="#089981" stroke-width="1"/>
<rect x="139" y="358" width="1" height="6" fill="#089981"/>
<rect x="139" y="420" width="1" height="10" fill="#089981"/>
<rect x="137.5" y="364.5" width="4" height="55" fill="none" stroke="#089981" stroke-width="1"/>
<rect x="146" y="360" width="1" height="4" fill="#f23645"/>
<rect x="146" y="389" width="1" height="3" fill="#f23645"/>
<rect x="144" y="364" width="5" height="25" fill="#f23645"/>
<rect x="152" y="373" width="1" height="15" fill="#f23645"/>
<rect x="152" y="417" width="1" height="2" fill="#f23645"/>
<rect x="150" y="388" width="5" height="29" fill="#f23645"/>
<rect x="159" y="413" width="1" height="3" fill="#f23645"/>
<rect x="159" y="430" width="1" height="9" fill="#f23645"/>
<rect x="157" y="416" width="5" height="14" fill="#f23645"/>
<rect x="163" y="429" width="5" height="32" fill="#f23645"/>
<rect x="172" y="436" width="1" height="18" fill="#089981"/>
<rect x="170.5" y="454.5" width="4" height="7" fill="none" stroke="#089981" stroke-width="1"/>
<rect x="178" y="437" width="1" height="13" fill="#089981"/>
<rect x="178" y="454" width="1" height="8" fill="#089981"/>
<rect x="176.5" y="450.5" width="4" height="3" fill="none" stroke="#089981" stroke-width="1"/>
<rect x="185" y="385" width="1" height="43" fill="#089981"/>
<rect x="185" y="462" width="1" height="12" fill="#089981"/>
<rect x="183.5" y="428.5" width="4" height="33" fill="none" stroke="#089981" stroke-width="1"/>
<rect x="191" y="413" width="1" height="9" fill="#089981"/>
<rect x="191" y="428" width="1" height="18" fill="#089981"/>
<rect x="189.5" y="422.5" width="4" height="5" fill="none" stroke="#089981" stroke-width="1"/>
<rect x="198" y="377" width="1" height="24" fill="#089981"/>
<rect x="196.5" y="401.5" width="4" height="20" fill="none" stroke="#089981" stroke-width="1"/>
<rect x="204" y="366" width="1" height="8" fill="#089981"/>
<rect x="202.5" y="374.5" width="4" height="26" fill="none" stroke="#089981" stroke-width="1"/>
<rect x="211" y="348" width="1" height="10" fill="#089981"/>
<rect x="209.5" y="358.5" width="4" height="16" fill="none" stroke="#089981" stroke-width="1"/>
<rect x="217" y="358" width="1" height="5" fill="#089981"/>
<rect x="215.5" y="332.5" width="4" height="25" fill="none" stroke="#089981" stroke-width="1"/>
<rect x="224" y="329" width="1" height="3" fill="#f23645"/>
<rect x="224" y="337" width="1" height="3" fill="#f23645"/>
<rect x="222" y="332" width="5" height="5" fill="#f23645"/>
<rect x="230" y="278" width="1" height="37" fill="#089981"/>
<rect x="230" y="333" width="1" height="17" fill="#089981"/>
<rect x="228" y="315" width="5" height="18" fill="#089981"/>
<rect x="237" y="302" width="1" height="1" fill="#089981"/>
<rect x="237" y="333" width="1" height="4" fill="#089981"/>
<rect x="235.5" y="303.5" width="4" height="29" fill="none" stroke="#089981" stroke-width="1"/>
<rect x="243" y="278" width="1" height="7" fill="#089981"/>
<rect x="243" y="303" width="1" height="6" fill="#089981"/>
<rect x="241.5" y="285.5" width="4" height="17" fill="none" stroke="#089981" stroke-width="1"/>
<rect x="250" y="282" width="1" height="3" fill="#f23645"/>
<rect x="250" y="300" width="1" height="3" fill="#f23645"/>
<rect x="248" y="285" width="5" height="15" fill="#f23645"/>
<rect x="256" y="284" width="1" height="2" fill="#089981"/>
<rect x="256" y="299" width="1" height="5" fill="#089981"/>
<rect x="254.5" y="286.5" width="4" height="12" fill="none" stroke="#089981" stroke-width="1"/>
<rect x="263" y="260" width="1" height="6" fill="#089981"/>
<rect x="261.5" y="266.5" width="4" height="19" fill="none" stroke="#089981" stroke-width="1"/>
<rect x="269" y="264" width="1" height="1" fill="#f23645"/>
<rect x="269" y="279" width="1" height="6" fill="#f23645"/>
<rect x="267" y="265" width="5" height="14" fill="#f23645"/>
<rect x="274.5" y="224.5" width="4" height="51" fill="none" stroke="#089981" stroke-width="1"/>
<rect x="282" y="216" width="1" height="1" fill="#089981"/>
<rect x="282" y="224" width="1" height="12" fill="#089981"/>
<rect x="280.5" y="217.5" width="4" height="6" fill="none" stroke="#089981" stroke-width="1"/>
<rect x="289" y="205" width="1" height="7" fill="#089981"/>
<rect x="287.5" y="212.5" width="4" height="5" fill="none" stroke="#089981" stroke-width="1"/>
<rect x="295" y="210" width="1" height="2" fill="#f23645"/>
<rect x="295" y="223" width="1" height="6" fill="#f23645"/>
<rect x="293" y="212" width="5" height="11" fill="#f23645"/>
<rect x="302" y="223" width="1" height="4" fill="#089981"/>
<rect x="300.5" y="208.5" width="4" height="14" fill="none" stroke="#089981" stroke-width="1"/>
<rect x="308" y="208" width="1" height="6" fill="#089981"/>
<rect x="306.5" y="198.5" width="4" height="9" fill="none" stroke="#089981" stroke-width="1"/>
<rect x="315" y="192" width="1" height="5" fill="#089981"/>
<rect x="315" y="198" width="1" height="3" fill="#089981"/>
<rect x="313" y="197" width="5" height="2" fill="#089981"/>
<rect x="321" y="198" width="1" height="2" fill="#f23645"/>
<rect x="319.5" y="200.5" width="4" height="42" fill="none" stroke="#f23645" stroke-width="1"/>
<rect x="328" y="167" width="1" height="3" fill="#089981"/>
<rect x="328" y="200" width="1" height="6" fill="#089981"/>
<rect x="326.5" y="170.5" width="4" height="29" fill="none" stroke="#089981" stroke-width="1"/>
<rect x="334" y="161" width="1" height="10" fill="#f23645"/>
<rect x="332" y="171" width="5" height="9" fill="#f23645"/>
<rect x="341" y="172" width="1" height="7" fill="#f23645"/>
<rect x="339" y="179" width="5" height="41" fill="#f23645"/>
<rect x="347" y="204" width="1" height="15" fill="#f23645"/>
<rect x="345" y="219" width="5" height="7" fill="#f23645"/>
<rect x="354" y="220" width="1" height="4" fill="#f23645"/>
<rect x="354" y="231" width="1" height="9" fill="#f23645"/>
<rect x="352" y="224" width="5" height="7" fill="#f23645"/>
<rect x="360" y="221" width="1" height="9" fill="#f23645"/>
<rect x="360" y="235" width="1" height="3" fill="#f23645"/>
<rect x="358" y="230" width="5" height="5" fill="#f23645"/>
<rect x="367" y="199" width="1" height="3" fill="#089981"/>
<rect x="367" y="225" width="1" height="29" fill="#089981"/>
<rect x="365.5" y="202.5" width="4" height="22" fill="none" stroke="#089981" stroke-width="1"/>
<rect x="373" y="196" width="1" height="6" fill="#f23645"/>
<rect x="373" y="229" width="1" height="5" fill="#f23645"/>
<rect x="371" y="202" width="5" height="27" fill="#f23645"/>
<rect x="380" y="223" width="1" height="5" fill="#f23645"/>
<rect x="378" y="228" width="5" height="31" fill="#f23645"/>
<rect x="386" y="225" width="1" height="14" fill="#089981"/>
<rect x="384.5" y="239.5" width="4" height="19" fill="none" stroke="#089981" stroke-width="1"/>
<rect x="393" y="237" width="1" height="2" fill="#f23645"/>
<rect x="393" y="253" width="1" height="6" fill="#f23645"/>
<rect x="391" y="239" width="5" height="14" fill="#f23645"/>
<rect x="399" y="250" width="1" height="1" fill="#089981"/>
<rect x="399" y="252" width="1" height="14" fill="#089981"/>
<rect x="397" y="251" width="5" height="2" fill="#089981"/>
<rect x="406" y="245" width="1" height="6" fill="#f23645"/>
<rect x="406" y="266" width="1" height="2" fill="#f23645"/>
<rect x="404" y="251" width="5" height="15" fill="#f23645"/>
<rect x="412" y="204" width="1" height="5" fill="#089981"/>
<rect x="410.5" y="209.5" width="4" height="54" fill="none" stroke="#089981" stroke-width="1"/>
<rect x="419" y="180" width="1" height="12" fill="#089981"/>
<rect x="417.5" y="192.5" width="4" height="17" fill="none" stroke="#089981" stroke-width="1"/>
<rect x="425" y="192" width="1" height="5" fill="#089981"/>
<rect x="423.5" y="169.5" width="4" height="22" fill="none" stroke="#089981" stroke-width="1"/>
<rect x="432" y="159" width="1" height="5" fill="#089981"/>
<rect x="432" y="169" width="1" height="6" fill="#089981"/>
<rect x="430.5" y="164.5" width="4" height="4" fill="none" stroke="#089981" stroke-width="1"/>
<rect x="438" y="156" width="1" height="3" fill="#089981"/>
<rect x="438" y="165" width="1" height="1" fill="#089981"/>
<rect x="436.5" y="159.5" width="4" height="5" fill="none" stroke="#089981" stroke-width="1"/>
<rect x="445" y="140" width="1" height="2" fill="#089981"/>
<rect x="443.5" y="142.5" width="4" height="16" fill="none" stroke="#089981" stroke-width="1"/>
<rect x="451" y="136" width="1" height="7" fill="#089981"/>
<rect x="451" y="144" width="1" height="3" fill="#089981"/>
<rect x="449" y="143" width="5" height="2" fill="#089981"/>
<rect x="458" y="163" width="1" height="11" fill="#f23645"/>
<rect x="458" y="185" width="1" height="6" fill="#f23645"/>
<rect x="456" y="174" width="5" height="11" fill="#f23645"/>
<rect x="464" y="162" width="1" height="4" fill="#089981"/>
<rect x="464" y="185" width="1" height="5" fill="#089981"/>
<rect x="462.5" y="166.5" width="4" height="18" fill="none" stroke="#089981" stroke-width="1"/>
<rect x="471" y="151" width="1" height="14" fill="#f23645"/>
<rect x="471" y="171" width="1" height="5" fill="#f23645"/>
<rect x="469" y="165" width="5" height="6" fill="#f23645"/>
<rect x="477" y="164" width="1" height="1" fill="#089981"/>
<rect x="477" y="171" width="1" height="13" fill="#089981"/>
<rect x="475.5" y="165.5" width="4" height="5" fill="none" stroke="#089981" stroke-width="1"/>
<rect x="484" y="162" width="1" height="3" fill="#f23645"/>
<rect x="484" y="171" width="1" height="3" fill="#f23645"/>
<rect x="482" y="165" width="5" height="6" fill="#f23645"/>
<rect x="490" y="160" width="1" height="10" fill="#f23645"/>
<rect x="490" y="175" width="1" height="12" fill="#f23645"/>
<rect x="488" y="170" width="5" height="5" fill="#f23645"/>
<rect x="497" y="164" width="1" height="10" fill="#f23645"/>
<rect x="497" y="181" width="1" height="1" fill="#f23645"/>
<rect x="495" y="174" width="5" height="7" fill="#f23645"/>
<rect x="503" y="128" width="1" height="13" fill="#089981"/>
<rect x="503" y="179" width="1" height="16" fill="#089981"/>
<rect x="501" y="141" width="5" height="38" fill="#089981"/>
<rect x="510" y="175" width="1" height="4" fill="#f23645"/>
<rect x="510" y="204" width="1" height="9" fill="#f23645"/>
<rect x="508" y="179" width="5" height="25" fill="#f23645"/>
<rect x="516" y="183" width="1" height="19" fill="#089981"/>
<rect x="516" y="204" width="1" height="13" fill="#089981"/>
<rect x="514.5" y="202.5" width="4" height="1" fill="none" stroke="#089981" stroke-width="1"/>
<rect x="523" y="190" width="1" height="8" fill="#089981"/>
<rect x="523" y="203" width="1" height="6" fill="#089981"/>
<rect x="521.5" y="198.5" width="4" height="4" fill="none" stroke="#089981" stroke-width="1"/>
<rect x="529" y="193" width="1" height="2" fill="#089981"/>
<rect x="529" y="198" width="1" height="6" fill="#089981"/>
<rect x="527.5" y="195.5" width="4" height="2" fill="none" stroke="#089981" stroke-width="1"/>
<rect x="536" y="185" width="1" height="10" fill="#f23645"/>
<rect x="536" y="200" width="1" height="4" fill="#f23645"/>
<rect x="534" y="195" width="5" height="5" fill="#f23645"/>
<rect x="542" y="190" width="1" height="9" fill="#f23645"/>
<rect x="540" y="199" width="5" height="3" fill="#f23645"/>
<rect x="549" y="233" width="1" height="1" fill="#f23645"/>
<rect x="547" y="205" width="5" height="28" fill="#f23645"/>
<rect x="555" y="221" width="1" height="7" fill="#089981"/>
<rect x="553.5" y="228.5" width="4" height="4" fill="none" stroke="#089981" stroke-width="1"/>
<rect x="562" y="221" width="1" height="7" fill="#f23645"/>
<rect x="560" y="228" width="5" height="11" fill="#f23645"/>
<rect x="568" y="226" width="1" height="8" fill="#089981"/>
<rect x="568" y="239" width="1" height="4" fill="#089981"/>
<rect x="566.5" y="234.5" width="4" height="4" fill="none" stroke="#089981" stroke-width="1"/>
<rect x="575" y="156" width="1" height="2" fill="#089981"/>
<rect x="573.5" y="158.5" width="4" height="75" fill="none" stroke="#089981" stroke-width="1"/>
<rect x="581" y="150" width="1" height="8" fill="#f23645"/>
<rect x="581" y="300" width="1" height="9" fill="#f23645"/>
<rect x="579" y="158" width="5" height="142" fill="#f23645"/>
<rect x="588" y="294" width="1" height="5" fill="#f23645"/>
<rect x="586" y="299" width="5" height="29" fill="#f23645"/>
<rect x="594" y="356" width="1" height="2" fill="#f23645"/>
<rect x="594" y="362" width="1" height="43" fill="#f23645"/>
<rect x="592.5" y="358.5" width="4" height="3" fill="none" stroke="#f23645" stroke-width="1"/>
<rect x="601" y="345" width="1" height="13" fill="#f23645"/>
<rect x="601" y="371" width="1" height="6" fill="#f23645"/>
<rect x="599" y="358" width="5" height="13" fill="#f23645"/>
<rect x="607" y="347" width="1" height="5" fill="#089981"/>
<rect x="607" y="370" width="1" height="9" fill="#089981"/>
<rect x="605.5" y="352.5" width="4" height="17" fill="none" stroke="#089981" stroke-width="1"/>
<rect x="614" y="339" width="1" height="13" fill="#f23645"/>
<rect x="614" y="356" width="1" height="5" fill="#f23645"/>
<rect x="612" y="352" width="5" height="4" fill="#f23645"/>
<rect x="620" y="348" width="1" height="2" fill="#089981"/>
<rect x="620" y="356" width="1" height="11" fill="#089981"/>
<rect x="618.5" y="350.5" width="4" height="5" fill="none" stroke="#089981" stroke-width="1"/>
<rect x="627" y="346" width="1" height="3" fill="#f23645"/>
<rect x="627" y="352" width="1" height="6" fill="#f23645"/>
<rect x="625" y="349" width="5" height="3" fill="#f23645"/>
<rect x="633" y="348" width="1" height="3" fill="#f23645"/>
<rect x="633" y="380" width="1" height="1" fill="#f23645"/>
<rect x="631" y="351" width="5" height="29" fill="#f23645"/>
<rect x="640" y="289" width="1" height="4" fill="#089981"/>
<rect x="640" y="308" width="1" height="56" fill="#089981"/>
<rect x="638.5" y="293.5" width="4" height="14" fill="none" stroke="#089981" stroke-width="1"/>
<rect x="646" y="279" width="1" height="14" fill="#f23645"/>
<rect x="644" y="293" width="5" height="46" fill="#f23645"/>
<rect x="653" y="332" width="1" height="6" fill="#f23645"/>
<rect x="653" y="358" width="1" height="34" fill="#f23645"/>
<rect x="651" y="338" width="5" height="20" fill="#f23645"/>
<rect x="659" y="356" width="1" height="2" fill="#f23645"/>
<rect x="659" y="380" width="1" height="12" fill="#f23645"/>
<rect x="657" y="358" width="5" height="22" fill="#f23645"/>
<rect x="666" y="362" width="1" height="3" fill="#089981"/>
<rect x="666" y="379" width="1" height="14" fill="#089981"/>
<rect x="664.5" y="365.5" width="4" height="13" fill="none" stroke="#089981" stroke-width="1"/>
<rect x="672" y="326" width="1" height="9" fill="#089981"/>
<rect x="672" y="366" width="1" height="3" fill="#089981"/>
<rect x="670.5" y="335.5" width="4" height="30" fill="none" stroke="#089981" stroke-width="1"/>
<rect x="679" y="310" width="1" height="4" fill="#089981"/>
<rect x="679" y="335" width="1" height="5" fill="#089981"/>
<rect x="677.5" y="314.5" width="4" height="20" fill="none" stroke="#089981" stroke-width="1"/>
<rect x="685" y="285" width="1" height="11" fill="#089981"/>
<rect x="685" y="305" width="1" height="15" fill="#089981"/>
<rect x="683" y="296" width="5" height="9" fill="#089981"/>
<rect x="692" y="289" width="1" height="3" fill="#089981"/>
<rect x="692" y="305" width="1" height="6" fill="#089981"/>
<rect x="690.5" y="292.5" width="4" height="12" fill="none" stroke="#089981" stroke-width="1"/>
<rect x="698" y="289" width="1" height="3" fill="#f23645"/>
<rect x="698" y="302" width="1" height="14" fill="#f23645"/>
<rect x="696" y="292" width="5" height="10" fill="#f23645"/>
<rect x="705" y="290" width="1" height="5" fill="#089981"/>
<rect x="705" y="302" width="1" height="6" fill="#089981"/>
<rect x="703.5" y="295.5" width="4" height="6" fill="none" stroke="#089981" stroke-width="1"/>
<rect x="711" y="268" width="1" height="2" fill="#089981"/>
<rect x="711" y="295" width="1" height="4" fill="#089981"/>
<rect x="709.5" y="270.5" width="4" height="24" fill="none" stroke="#089981" stroke-width="1"/>
<rect x="718" y="259" width="1" height="2" fill="#089981"/>
<rect x="718" y="270" width="1" height="1" fill="#089981"/>
<rect x="716.5" y="261.5" width="4" height="8" fill="none" stroke="#089981" stroke-width="1"/>
<rect x="724" y="256" width="1" height="5" fill="#f23645"/>
<rect x="724" y="266" width="1" height="4" fill="#f23645"/>
<rect x="722" y="261" width="5" height="5" fill="#f23645"/>
<rect x="731" y="233" width="1" height="6" fill="#089981"/>
<rect x="731" y="249" width="1" height="20" fill="#089981"/>
<rect x="729.5" y="239.5" width="4" height="9" fill="none" stroke="#089981" stroke-width="1"/>
<rect x="735.5" y="210.5" width="4" height="27" fill="none" stroke="#089981" stroke-width="1"/>
<rect x="744" y="196" width="1" height="10" fill="#089981"/>
<rect x="742.5" y="206.5" width="4" height="4" fill="none" stroke="#089981" stroke-width="1"/>
<rect x="750" y="197" width="1" height="9" fill="#f23645"/>
<rect x="750" y="240" width="1" height="1" fill="#f23645"/>
<rect x="748" y="206" width="5" height="34" fill="#f23645"/>
<rect x="757" y="230" width="1" height="9" fill="#f23645"/>
<rect x="755" y="239" width="5" height="48" fill="#f23645"/>
<rect x="763" y="222" width="1" height="4" fill="#089981"/>
<rect x="763" y="287" width="1" height="5" fill="#089981"/>
<rect x="761.5" y="226.5" width="4" height="60" fill="none" stroke="#089981" stroke-width="1"/>
<rect x="770" y="214" width="1" height="1" fill="#089981"/>
<rect x="768.5" y="215.5" width="4" height="9" fill="none" stroke="#089981" stroke-width="1"/>
<rect x="916" y="238" width="1" height="4" fill="#089981"/>
<rect x="916" y="256" width="1" height="6" fill="#089981"/>
<rect x="912.5" y="242.5" width="8" height="13" fill="none" stroke="#089981" stroke-width="1"/>
<rect x="927" y="248" width="1" height="3" fill="#f23645"/>
<rect x="923" y="242" width="9" height="6" fill="#f23645"/>
<rect x="939" y="215" width="1" height="11" fill="#089981"/>
<rect x="939" y="249" width="1" height="1" fill="#089981"/>
<rect x="935.5" y="226.5" width="8" height="22" fill="none" stroke="#089981" stroke-width="1"/>
<rect x="950" y="160" width="1" height="5" fill="#089981"/>
<rect x="950" y="226" width="1" height="17" fill="#089981"/>
<rect x="946.5" y="165.5" width="8" height="60" fill="none" stroke="#089981" stroke-width="1"/>
<rect x="961" y="128" width="1" height="34" fill="#f23645"/>
<rect x="961" y="274" width="1" height="30" fill="#f23645"/>
<rect x="957" y="162" width="9" height="112" fill="#f23645"/>
<rect x="973" y="232" width="1" height="44" fill="#f23645"/>
<rect x="973" y="344" width="1" height="14" fill="#f23645"/>
<rect x="969" y="276" width="9" height="68" fill="#f23645"/>
<rect x="984" y="336" width="1" height="8" fill="#f23645"/>
<rect x="980" y="344" width="9" height="42" fill="#f23645"/>
<rect x="991.5" y="385.5" width="8" height="2" fill="none" stroke="#089981" stroke-width="1"/>
<rect x="1002" y="435" width="9" height="61" fill="#f23645"/>
<rect x="1018" y="428" width="1" height="2" fill="#089981"/>
<rect x="1018" y="489" width="1" height="13" fill="#089981"/>
<rect x="1014.5" y="430.5" width="8" height="58" fill="none" stroke="#089981" stroke-width="1"/>
<rect x="1029" y="412" width="1" height="2" fill="#089981"/>
<rect x="1029" y="430" width="1" height="26" fill="#089981"/>
<rect x="1025.5" y="414.5" width="8" height="15" fill="none" stroke="#089981" stroke-width="1"/>
<rect x="1040" y="412" width="1" height="2" fill="#f23645"/>
<rect x="1036" y="414" width="9" height="34" fill="#f23645"/>
<rect x="1051" y="429" width="1" height="18" fill="#f23645"/>
<rect x="1051" y="448" width="1" height="12" fill="#f23645"/>
<rect x="1047" y="447" width="9" height="1" fill="#f23645"/>
<rect x="1063" y="415" width="1" height="7" fill="#089981"/>
<rect x="1063" y="448" width="1" height="5" fill="#089981"/>
<rect x="1059.5" y="422.5" width="8" height="25" fill="none" stroke="#089981" stroke-width="1"/>
<rect x="1074" y="402" width="1" height="4" fill="#089981"/>
<rect x="1074" y="422" width="1" height="11" fill="#089981"/>
<rect x="1070.5" y="406.5" width="8" height="15" fill="none" stroke="#089981" stroke-width="1"/>
<rect x="1085" y="405" width="1" height="2" fill="#f23645"/>
<rect x="1085" y="427" width="1" height="3" fill="#f23645"/>
<rect x="1081" y="407" width="9" height="20" fill="#f23645"/>
<rect x="1097" y="422" width="1" height="4" fill="#f23645"/>
<rect x="1093" y="426" width="9" height="12" fill="#f23645"/>
<rect x="1108" y="416" width="1" height="2" fill="#089981"/>
<rect x="1108" y="438" width="1" height="6" fill="#089981"/>
<rect x="1104.5" y="418.5" width="8" height="19" fill="none" stroke="#089981" stroke-width="1"/>
<rect x="1119" y="412" width="1" height="2" fill="#089981"/>
<rect x="1119" y="418" width="1" height="13" fill="#089981"/>
<rect x="1115.5" y="414.5" width="8" height="3" fill="none" stroke="#089981" stroke-width="1"/>
<rect x="1130" y="413" width="1" height="1" fill="#f23645"/>
<rect x="1130" y="420" width="1" height="8" fill="#f23645"/>
<rect x="1126" y="414" width="9" height="6" fill="#f23645"/>
<rect x="1142" y="415" width="1" height="6" fill="#f23645"/>
<rect x="1142" y="461" width="1" height="3" fill="#f23645"/>
<rect x="1138" y="421" width="9" height="40" fill="#f23645"/>
<rect x="1149" y="461" width="9" height="2" fill="#f23645"/>
<rect x="1164" y="345" width="1" height="11" fill="#089981"/>
<rect x="1164" y="387" width="1" height="52" fill="#089981"/>
<rect x="1160" y="356" width="9" height="31" fill="#089981"/>
<rect x="1176" y="329" width="1" height="7" fill="#089981"/>
<rect x="1176" y="387" width="1" height="5" fill="#089981"/>
<rect x="1172.5" y="336.5" width="8" height="50" fill="none" stroke="#089981" stroke-width="1"/>
<rect x="1187" y="315" width="1" height="21" fill="#f23645"/>
<rect x="1187" y="354" width="1" height="6" fill="#f23645"/>
<rect x="1183" y="336" width="9" height="18" fill="#f23645"/>
<rect x="1198" y="341" width="1" height="12" fill="#f23645"/>
<rect x="1194" y="353" width="9" height="50" fill="#f23645"/>
<rect x="1209" y="392" width="1" height="10" fill="#f23645"/>
<rect x="1205" y="402" width="9" height="65" fill="#f23645"/>
<rect x="1221" y="427" width="1" height="4" fill="#089981"/>
<rect x="1221" y="466" width="1" height="14" fill="#089981"/>
<rect x="1217.5" y="431.5" width="8" height="34" fill="none" stroke="#089981" stroke-width="1"/>
<rect x="1232" y="428" width="1" height="3" fill="#f23645"/>
<rect x="1232" y="459" width="1" height="9" fill="#f23645"/>
<rect x="1228" y="431" width="9" height="28" fill="#f23645"/>
<rect x="1243" y="446" width="1" height="12" fill="#f23645"/>
<rect x="1243" y="463" width="1" height="17" fill="#f23645"/>
<rect x="1239" y="458" width="9" height="5" fill="#f23645"/>
<rect x="1255" y="454" width="1" height="8" fill="#f23645"/>
<rect x="1255" y="470" width="1" height="2" fill="#f23645"/>
<rect x="1251" y="462" width="9" height="8" fill="#f23645"/>
<rect x="1266" y="436" width="1" height="5" fill="#089981"/>
<rect x="1266" y="470" width="1" height="12" fill="#089981"/>
<rect x="1262.5" y="441.5" width="8" height="28" fill="none" stroke="#089981" stroke-width="1"/>
<rect x="1277" y="404" width="1" height="4" fill="#089981"/>
<rect x="1277" y="442" width="1" height="4" fill="#089981"/>
<rect x="1273.5" y="408.5" width="8" height="33" fill="none" stroke="#089981" stroke-width="1"/>
<rect x="1288" y="384" width="1" height="12" fill="#089981"/>
<rect x="1288" y="409" width="1" height="4" fill="#089981"/>
<rect x="1284.5" y="396.5" width="8" height="12" fill="none" stroke="#089981" stroke-width="1"/>
<rect x="1300" y="360" width="1" height="3" fill="#089981"/>
<rect x="1300" y="396" width="1" height="9" fill="#089981"/>
<rect x="1296.5" y="363.5" width="8" height="32" fill="none" stroke="#089981" stroke-width="1"/>
<rect x="1307" y="362" width="9" height="3" fill="#f23645"/>
<rect x="1322" y="327" width="1" height="13" fill="#f23645"/>
<rect x="1322" y="369" width="1" height="6" fill="#f23645"/>
<rect x="1318" y="340" width="9" height="29" fill="#f23645"/>
<rect x="1334" y="324" width="1" height="30" fill="#089981"/>
<rect x="1330.5" y="354.5" width="8" height="14" fill="none" stroke="#089981" stroke-width="1"/>
<rect x="1345" y="337" width="1" height="1" fill="#089981"/>
<rect x="1345" y="354" width="1" height="8" fill="#089981"/>
<rect x="1341.5" y="338.5" width="8" height="15" fill="none" stroke="#089981" stroke-width="1"/>
<rect x="1356" y="329" width="1" height="5" fill="#089981"/>
<rect x="1356" y="339" width="1" height="11" fill="#089981"/>
<rect x="1352.5" y="334.5" width="8" height="4" fill="none" stroke="#089981" stroke-width="1"/>
<rect x="1367" y="328" width="1" height="6" fill="#f23645"/>
<rect x="1363" y="334" width="9" height="31" fill="#f23645"/>
<rect x="1379" y="346" width="1" height="1" fill="#089981"/>
<rect x="1379" y="365" width="1" height="6" fill="#089981"/>
<rect x="1375.5" y="347.5" width="8" height="17" fill="none" stroke="#089981" stroke-width="1"/>
<rect x="1390" y="343" width="1" height="4" fill="#f23645"/>
<rect x="1390" y="351" width="1" height="6" fill="#f23645"/>
<rect x="1386" y="347" width="9" height="4" fill="#f23645"/>
<rect x="1401" y="331" width="1" height="7" fill="#089981"/>
<rect x="1397.5" y="338.5" width="8" height="11" fill="none" stroke="#089981" stroke-width="1"/>
<rect x="1413" y="338" width="1" height="8" fill="#089981"/>
<rect x="1409.5" y="332.5" width="8" height="5" fill="none" stroke="#089981" stroke-width="1"/>
<rect x="1424" y="300" width="1" height="2" fill="#089981"/>
<rect x="1420.5" y="302.5" width="8" height="29" fill="none" stroke="#089981" stroke-width="1"/>
<rect x="1435" y="292" width="1" height="10" fill="#f23645"/>
<rect x="1431" y="302" width="9" height="4" fill="#f23645"/>
<rect x="1446" y="286" width="1" height="2" fill="#089981"/>
<rect x="1442.5" y="288.5" width="8" height="15" fill="none" stroke="#089981" stroke-width="1"/>
<rect x="1458" y="281" width="1" height="8" fill="#f23645"/>
<rect x="1458" y="295" width="1" height="9" fill="#f23645"/>
<rect x="1454" y="289" width="9" height="6" fill="#f23645"/>
<rect x="1465" y="293" width="9" height="3" fill="#f23645"/>
<rect x="1480" y="270" width="1" height="1" fill="#089981"/>
<rect x="1480" y="280" width="1" height="21" fill="#089981"/>
<rect x="1476" y="271" width="9" height="9" fill="#089981"/>
<rect x="1492" y="249" width="1" height="6" fill="#089981"/>
<rect x="1492" y="283" width="1" height="1" fill="#089981"/>
<rect x="1488.5" y="255.5" width="8" height="27" fill="none" stroke="#089981" stroke-width="1"/>
<rect x="1503" y="229" width="1" height="4" fill="#089981"/>
<rect x="1499.5" y="233.5" width="8" height="22" fill="none" stroke="#089981" stroke-width="1"/>
<rect x="1514" y="213" width="1" height="1" fill="#089981"/>
<rect x="1514" y="234" width="1" height="9" fill="#089981"/>
<rect x="1510.5" y="214.5" width="8" height="19" fill="none" stroke="#089981" stroke-width="1"/>
<rect x="1525" y="195" width="1" height="10" fill="#089981"/>
<rect x="1521.5" y="205.5" width="8" height="8" fill="none" stroke="#089981" stroke-width="1"/>
<rect x="1537" y="201" width="1" height="4" fill="#f23645"/>
<rect x="1537" y="209" width="1" height="7" fill="#f23645"/>
<rect x="1533" y="205" width="9" height="4" fill="#f23645"/>
<rect x="1548" y="201" width="1" height="5" fill="#089981"/>
<rect x="1548" y="209" width="1" height="6" fill="#089981"/>
<rect x="1544.5" y="206.5" width="8" height="2" fill="none" stroke="#089981" stroke-width="1"/>
<rect x="1559" y="196" width="1" height="10" fill="#f23645"/>
<rect x="1559" y="258" width="1" height="2" fill="#f23645"/>
<rect x="1555" y="206" width="9" height="52" fill="#f23645"/>
<rect x="1571" y="244" width="1" height="13" fill="#f23645"/>
<rect x="1571" y="278" width="1" height="4" fill="#f23645"/>
<rect x="1567" y="257" width="9" height="21" fill="#f23645"/>
<rect x="1582" y="268" width="1" height="9" fill="#f23645"/>
<rect x="1578" y="277" width="9" height="51" fill="#f23645"/>
<rect x="1593" y="267" width="1" height="12" fill="#089981"/>
<rect x="1593" y="328" width="1" height="6" fill="#089981"/>
<rect x="1589.5" y="279.5" width="8" height="48" fill="none" stroke="#089981" stroke-width="1"/>
<rect x="1604" y="279" width="1" height="2" fill="#089981"/>
<rect x="1600.5" y="237.5" width="8" height="41" fill="none" stroke="#089981" stroke-width="1"/>
<rect x="1616" y="220" width="1" height="2" fill="#089981"/>
<rect x="1612.5" y="222.5" width="8" height="14" fill="none" stroke="#089981" stroke-width="1"/>
<rect x="9" y="577" width="3" height="19" fill="#8e1b1d"/>
<rect x="13" y="582" width="6" height="14" fill="#2e7533"/>
<rect x="20" y="584" width="5" height="12" fill="#2e7533"/>
<rect x="26" y="583" width="6" height="13" fill="#8e1b1d"/>
<rect x="33" y="581" width="5" height="15" fill="#2e7533"/>
<rect x="39" y="555" width="6" height="41" fill="#8e1b1d"/>
<rect x="46" y="562" width="5" height="34" fill="#8e1b1d"/>
<rect x="52" y="576" width="6" height="20" fill="#8e1b1d"/>
<rect x="59" y="580" width="5" height="16" fill="#2e7533"/>
<rect x="65" y="582" width="6" height="14" fill="#2e7533"/>
<rect x="72" y="583" width="5" height="13" fill="#2e7533"/>
<rect x="78" y="578" width="6" height="18" fill="#8e1b1d"/>
<rect x="85" y="561" width="5" height="35" fill="#2e7533"/>
<rect x="91" y="568" width="6" height="28" fill="#2e7533"/>
<rect x="98" y="579" width="5" height="17" fill="#8e1b1d"/>
<rect x="104" y="583" width="6" height="13" fill="#8e1b1d"/>
<rect x="111" y="582" width="5" height="14" fill="#8e1b1d"/>
<rect x="117" y="583" width="6" height="13" fill="#2e7533"/>
<rect x="124" y="581" width="5" height="15" fill="#8e1b1d"/>
<rect x="130" y="562" width="6" height="34" fill="#2e7533"/>
<rect x="137" y="562" width="5" height="34" fill="#2e7533"/>
<rect x="143" y="577" width="6" height="19" fill="#8e1b1d"/>
<rect x="150" y="580" width="5" height="16" fill="#8e1b1d"/>
<rect x="156" y="581" width="6" height="15" fill="#8e1b1d"/>
<rect x="163" y="582" width="5" height="14" fill="#8e1b1d"/>
<rect x="169" y="580" width="6" height="16" fill="#2e7533"/>
<rect x="176" y="561" width="5" height="35" fill="#2e7533"/>
<rect x="182" y="558" width="6" height="38" fill="#2e7533"/>
<rect x="189" y="576" width="5" height="20" fill="#2e7533"/>
<rect x="195" y="578" width="6" height="18" fill="#2e7533"/>
<rect x="202" y="581" width="5" height="15" fill="#2e7533"/>
<rect x="208" y="581" width="6" height="15" fill="#2e7533"/>
<rect x="215" y="579" width="5" height="17" fill="#2e7533"/>
<rect x="221" y="552" width="6" height="44" fill="#8e1b1d"/>
<rect x="228" y="567" width="5" height="29" fill="#8e1b1d"/>
<rect x="234" y="576" width="6" height="20" fill="#2e7533"/>
<rect x="241" y="581" width="5" height="15" fill="#2e7533"/>
<rect x="247" y="583" width="6" height="13" fill="#8e1b1d"/>
<rect x="254" y="583" width="5" height="13" fill="#2e7533"/>
<rect x="260" y="580" width="6" height="16" fill="#2e7533"/>
<rect x="267" y="560" width="5" height="36" fill="#8e1b1d"/>
<rect x="273" y="566" width="6" height="30" fill="#2e7533"/>
<rect x="280" y="577" width="5" height="19" fill="#2e7533"/>
<rect x="286" y="581" width="6" height="15" fill="#2e7533"/>
<rect x="293" y="582" width="5" height="14" fill="#8e1b1d"/>
<rect x="299" y="582" width="6" height="14" fill="#2e7533"/>
<rect x="306" y="580" width="5" height="16" fill="#2e7533"/>
<rect x="312" y="554" width="6" height="42" fill="#2e7533"/>
<rect x="319" y="560" width="5" height="36" fill="#2e7533"/>
<rect x="325" y="575" width="6" height="21" fill="#2e7533"/>
<rect x="332" y="580" width="5" height="16" fill="#8e1b1d"/>
<rect x="338" y="580" width="6" height="16" fill="#8e1b1d"/>
<rect x="345" y="581" width="5" height="15" fill="#8e1b1d"/>
<rect x="351" y="578" width="6" height="18" fill="#8e1b1d"/>
<rect x="358" y="556" width="5" height="40" fill="#8e1b1d"/>
<rect x="364" y="558" width="6" height="38" fill="#2e7533"/>
<rect x="371" y="576" width="5" height="20" fill="#8e1b1d"/>
<rect x="377" y="580" width="6" height="16" fill="#8e1b1d"/>
<rect x="384" y="581" width="5" height="15" fill="#2e7533"/>
<rect x="390" y="582" width="6" height="14" fill="#8e1b1d"/>
<rect x="397" y="577" width="5" height="19" fill="#2e7533"/>
<rect x="403" y="549" width="6" height="47" fill="#8e1b1d"/>
<rect x="410" y="557" width="5" height="39" fill="#2e7533"/>
<rect x="416" y="574" width="6" height="22" fill="#2e7533"/>
<rect x="423" y="580" width="5" height="16" fill="#2e7533"/>
<rect x="429" y="582" width="6" height="14" fill="#2e7533"/>
<rect x="436" y="582" width="5" height="14" fill="#2e7533"/>
<rect x="442" y="579" width="6" height="17" fill="#2e7533"/>
<rect x="449" y="555" width="5" height="41" fill="#2e7533"/>
<rect x="455" y="565" width="6" height="31" fill="#8e1b1d"/>
<rect x="462" y="578" width="5" height="18" fill="#2e7533"/>
<rect x="468" y="580" width="6" height="16" fill="#8e1b1d"/>
<rect x="475" y="583" width="5" height="13" fill="#2e7533"/>
<rect x="481" y="583" width="6" height="13" fill="#8e1b1d"/>
<rect x="488" y="580" width="5" height="16" fill="#8e1b1d"/>
<rect x="494" y="547" width="6" height="49" fill="#8e1b1d"/>
<rect x="501" y="565" width="5" height="31" fill="#8e1b1d"/>
<rect x="507" y="577" width="6" height="19" fill="#8e1b1d"/>
<rect x="514" y="580" width="5" height="16" fill="#2e7533"/>
<rect x="520" y="582" width="6" height="14" fill="#2e7533"/>
<rect x="527" y="583" width="5" height="13" fill="#2e7533"/>
<rect x="533" y="580" width="6" height="16" fill="#8e1b1d"/>
<rect x="540" y="559" width="5" height="37" fill="#8e1b1d"/>
<rect x="546" y="569" width="6" height="27" fill="#8e1b1d"/>
<rect x="553" y="579" width="5" height="17" fill="#2e7533"/>
<rect x="559" y="582" width="6" height="14" fill="#8e1b1d"/>
<rect x="566" y="584" width="5" height="12" fill="#2e7533"/>
<rect x="572" y="574" width="6" height="22" fill="#2e7533"/>
<rect x="579" y="561" width="5" height="35" fill="#8e1b1d"/>
<rect x="585" y="551" width="6" height="45" fill="#8e1b1d"/>
<rect x="592" y="560" width="5" height="36" fill="#2e7533"/>
<rect x="598" y="574" width="6" height="22" fill="#8e1b1d"/>
<rect x="605" y="578" width="5" height="18" fill="#2e7533"/>
<rect x="611" y="581" width="6" height="15" fill="#8e1b1d"/>
<rect x="618" y="582" width="5" height="14" fill="#2e7533"/>
<rect x="624" y="580" width="6" height="16" fill="#8e1b1d"/>
<rect x="631" y="557" width="5" height="39" fill="#8e1b1d"/>
<rect x="637" y="558" width="6" height="38" fill="#2e7533"/>
<rect x="644" y="574" width="5" height="22" fill="#8e1b1d"/>
<rect x="650" y="576" width="6" height="20" fill="#8e1b1d"/>
<rect x="657" y="580" width="5" height="16" fill="#8e1b1d"/>
<rect x="663" y="581" width="6" height="15" fill="#2e7533"/>
<rect x="670" y="578" width="5" height="18" fill="#2e7533"/>
<rect x="676" y="557" width="6" height="39" fill="#2e7533"/>
<rect x="683" y="567" width="5" height="29" fill="#8e1b1d"/>
<rect x="689" y="577" width="6" height="19" fill="#2e7533"/>
<rect x="696" y="582" width="5" height="14" fill="#8e1b1d"/>
<rect x="702" y="584" width="6" height="12" fill="#2e7533"/>
<rect x="709" y="583" width="5" height="13" fill="#2e7533"/>
<rect x="715" y="580" width="6" height="16" fill="#2e7533"/>
<rect x="722" y="560" width="5" height="36" fill="#8e1b1d"/>
<rect x="728" y="567" width="6" height="29" fill="#2e7533"/>
<rect x="735" y="577" width="5" height="19" fill="#2e7533"/>
<rect x="741" y="581" width="6" height="15" fill="#2e7533"/>
<rect x="748" y="582" width="5" height="14" fill="#8e1b1d"/>
<rect x="754" y="580" width="6" height="16" fill="#8e1b1d"/>
<rect x="761" y="579" width="5" height="17" fill="#2e7533"/>
<rect x="767" y="594" width="6" height="2" fill="#2e7533"/>
<rect x="911" y="585" width="10" height="11" fill="#2e7533"/>
<rect x="922" y="586" width="10" height="10" fill="#8e1b1d"/>
<rect x="933" y="584" width="11" height="12" fill="#2e7533"/>
<rect x="945" y="569" width="10" height="27" fill="#2e7533"/>
<rect x="956" y="560" width="10" height="36" fill="#8e1b1d"/>
<rect x="967" y="570" width="11" height="26" fill="#8e1b1d"/>
<rect x="979" y="547" width="10" height="49" fill="#8e1b1d"/>
<rect x="990" y="565" width="10" height="31" fill="#2e7533"/>
<rect x="1001" y="558" width="10" height="38" fill="#8e1b1d"/>
<rect x="1012" y="569" width="11" height="27" fill="#2e7533"/>
<rect x="1024" y="574" width="10" height="22" fill="#2e7533"/>
<rect x="1035" y="578" width="10" height="18" fill="#8e1b1d"/>
<rect x="1046" y="580" width="10" height="16" fill="#8e1b1d"/>
<rect x="1057" y="581" width="11" height="15" fill="#2e7533"/>
<rect x="1069" y="582" width="10" height="14" fill="#2e7533"/>
<rect x="1080" y="583" width="10" height="13" fill="#8e1b1d"/>
<rect x="1091" y="584" width="11" height="12" fill="#8e1b1d"/>
<rect x="1103" y="583" width="10" height="13" fill="#2e7533"/>
<rect x="1114" y="583" width="10" height="13" fill="#2e7533"/>
<rect x="1125" y="580" width="10" height="16" fill="#8e1b1d"/>
<rect x="1136" y="553" width="11" height="43" fill="#8e1b1d"/>
<rect x="1148" y="570" width="10" height="26" fill="#2e7533"/>
<rect x="1159" y="554" width="10" height="42" fill="#8e1b1d"/>
<rect x="1170" y="571" width="11" height="25" fill="#2e7533"/>
<rect x="1182" y="576" width="10" height="20" fill="#8e1b1d"/>
<rect x="1193" y="577" width="10" height="19" fill="#8e1b1d"/>
<rect x="1204" y="578" width="10" height="18" fill="#8e1b1d"/>
<rect x="1215" y="579" width="11" height="17" fill="#2e7533"/>
<rect x="1227" y="581" width="10" height="15" fill="#8e1b1d"/>
<rect x="1238" y="582" width="10" height="14" fill="#8e1b1d"/>
<rect x="1249" y="583" width="11" height="13" fill="#8e1b1d"/>
<rect x="1261" y="582" width="10" height="14" fill="#2e7533"/>
<rect x="1272" y="581" width="10" height="15" fill="#2e7533"/>
<rect x="1283" y="578" width="10" height="18" fill="#2e7533"/>
<rect x="1294" y="555" width="11" height="41" fill="#2e7533"/>
<rect x="1306" y="568" width="10" height="28" fill="#8e1b1d"/>
<rect x="1317" y="566" width="10" height="30" fill="#8e1b1d"/>
<rect x="1328" y="576" width="11" height="20" fill="#2e7533"/>
<rect x="1340" y="578" width="10" height="18" fill="#2e7533"/>
<rect x="1351" y="581" width="10" height="15" fill="#2e7533"/>
<rect x="1362" y="582" width="10" height="14" fill="#8e1b1d"/>
<rect x="1373" y="584" width="11" height="12" fill="#2e7533"/>
<rect x="1385" y="585" width="10" height="11" fill="#8e1b1d"/>
<rect x="1396" y="585" width="10" height="11" fill="#2e7533"/>
<rect x="1407" y="586" width="11" height="10" fill="#2e7533"/>
<rect x="1419" y="583" width="10" height="13" fill="#2e7533"/>
<rect x="1430" y="582" width="10" height="14" fill="#8e1b1d"/>
<rect x="1441" y="580" width="10" height="16" fill="#2e7533"/>
<rect x="1452" y="559" width="11" height="37" fill="#8e1b1d"/>
<rect x="1464" y="568" width="10" height="28" fill="#8e1b1d"/>
<rect x="1475" y="565" width="10" height="31" fill="#8e1b1d"/>
<rect x="1486" y="576" width="11" height="20" fill="#2e7533"/>
<rect x="1498" y="579" width="10" height="17" fill="#2e7533"/>
<rect x="1509" y="580" width="10" height="16" fill="#2e7533"/>
<rect x="1520" y="581" width="10" height="15" fill="#2e7533"/>
<rect x="1531" y="583" width="11" height="13" fill="#8e1b1d"/>
<rect x="1543" y="585" width="10" height="11" fill="#2e7533"/>
<rect x="1554" y="583" width="10" height="13" fill="#8e1b1d"/>
<rect x="1565" y="582" width="11" height="14" fill="#8e1b1d"/>
<rect x="1577" y="581" width="10" height="15" fill="#8e1b1d"/>
<rect x="1588" y="581" width="10" height="15" fill="#2e7533"/>
<rect x="1599" y="581" width="10" height="15" fill="#2e7533"/>
<rect x="1610" y="593" width="11" height="3" fill="#2e7533"/>
<polyline points="9.1,736.4 20.9,735.1 40.3,733 51,730.4 72.5,726.5 94.1,723.9 115.6,722.2 132.8,721.4 145.7,719.6 158.6,719.2 171.5,719.6 184.4,720.1 197.3,719.2 212.4,717.5 229.6,714.3 244.7,710 270.5,702.9 287.7,696.4 309.2,689.1 333.9,681.3 352.2,677.7 373.7,673.4 390,671.2 405.1,670.1 422.3,665.8 451.3,658.3 476.1,654 497.6,650.4 519.1,648.2 540.6,646.9 562.1,646.5 577.2,646.5 594.4,649.7 615.9,656.2 637.4,660.5 665.4,665.4 691.2,666.3 712.7,666.3 734.2,663.7 751.4,661.5 770.8,660.5" fill="none" stroke="#2451b5" stroke-width="1" stroke-linejoin="round" stroke-linecap="round"/>
<polyline points="9.1,740.1 20.9,737.9 40.3,734.7 51,731.5 72.5,726.1 94.1,721.8 115.6,719.6 132.8,718.6 145.7,716.4 158.6,716.4 171.5,717.5 184.4,717.5 197.3,716.4 212.4,714.3 229.6,710 244.7,704.6 270.5,696.4 287.7,688.4 309.2,678.8 333.9,669.7 352.2,665.8 373.7,662 390,660.9 405.1,659.8 422.3,654.7 451.3,647.6 476.1,642.6 497.6,640 519.1,639 540.6,638.3 557.8,639 570.7,640 583.6,644.3 605.1,651.9 622.4,656.8 637.4,660.5 654.6,664.8 669.7,668 691.2,669.1 712.7,668.6 734.2,665.4 755.7,661.5 770.8,661.1" fill="none" stroke="#d9522e" stroke-width="1" stroke-linejoin="round" stroke-linecap="round"/>
<polyline points="9.1,737.9 20.9,734.7 40.3,732.5 48.9,728.2 61.8,723.9 74.7,719.2 94.1,714.3 104.8,713.2 119.9,713.8 132.8,713.2 145.7,711 158.6,712.1 171.5,714.3 184.4,714.9 197.3,714.3 210.2,710 229.6,703.5 244.7,696.4 270.5,685.6 287.7,674.5 309.2,663.7 333.9,654 352.2,651.9 373.7,649.1 390,648.6 405.1,651.2 422.3,645.4 451.3,637.2 476.1,633.1 504,631 529.8,632.5 544.9,634 562.1,637.4 575,636.4 583.6,641.1 594.4,648.6 609.4,657.2 622.4,662.6 633.1,668 641.7,668.4 654.6,672.3 665.4,676.2 674,677.2 691.2,676.2 706.3,674.5 719.2,671.2 729.9,668 742.8,662.6 755.7,661.1 770.8,659" fill="none" stroke="#0f7f7a" stroke-width="1" stroke-linejoin="round" stroke-linecap="round"/>
<polyline points="9.1,739 16.6,733.6 29.5,728.2 41.3,725 48.9,718.6 57.5,715.3 72.5,707.8 83.3,705.6 94.1,702.9 104.8,705.6 117.7,708.9 130.6,710 139.2,706.7 150,705.6 158.6,707.8 171.5,715.3 184.4,716.4 195.2,715.3 205.9,710 216.7,702.4 229.6,694.9 244.7,685.2 255.4,679.8 268.3,672.3 276.9,664.8 287.7,658.3 309.2,647.6 320,643.9 333.9,637.9 343.6,639.6 360.8,642.2 373.7,643.9 382.4,645.4 390,647.1 405.1,650.8 418,643.3 433,635.7 451.3,627.8 465.3,627.1 480.4,626 491.1,626 504,627.6 514.8,630.3 529.8,631.9 540.6,633.6 553.5,637.9 566.4,641.1 575,639 583.6,646.5 592.2,659.4 605.1,670.1 618.1,677.7 626.7,679.8 633.1,684.1 639.6,680.9 648.2,682 658.9,686.3 669.7,687.4 680.4,685.2 691.2,679.8 704.1,676.6 719.2,669.1 734.2,661.5 742.8,655.5 749.3,654 756.8,656.6 770.8,651.9" fill="none" stroke="#e026e0" stroke-width="1" stroke-linejoin="round" stroke-linecap="round"/>
<polyline points="9.1,745.5 16.6,732.5 27.4,719.6 36,714.3 41.3,712.7 48.9,706.7 59.6,702.9 73.6,698.8" fill="none" stroke="#00ff00" stroke-width="2.2" stroke-linejoin="round" stroke-linecap="round"/>
<polyline points="73.6,698.8 85.5,698.5" fill="none" stroke="#ff0000" stroke-width="2.2" stroke-linejoin="round" stroke-linecap="round"/>
<polyline points="85.5,698.5 93,698.1" fill="none" stroke="#00ff00" stroke-width="2.2" stroke-linejoin="round" stroke-linecap="round"/>
<polyline points="93,698.1 104.8,702 115.6,710 124.2,713.6 132.4,714.9" fill="none" stroke="#ff0000" stroke-width="2.2" stroke-linejoin="round" stroke-linecap="round"/>
<polyline points="132.4,714.9 141.4,708.9 147.8,705.6 152.1,704.6" fill="none" stroke="#00ff00" stroke-width="2.2" stroke-linejoin="round" stroke-linecap="round"/>
<polyline points="152.1,704.6 160.8,707.2 171.5,716.4 178,720.1 184.4,721.4" fill="none" stroke="#ff0000" stroke-width="2.2" stroke-linejoin="round" stroke-linecap="round"/>
<polyline points="184.4,721.4 193,719.2 201.6,711 212.4,698.1 223.1,686.3 233.9,678.3 244.7,670.1 255.4,665.8 266.2,662 269.4,661.1 279.1,654 289.8,646.1 300.6,641.1 311.4,636.8 322.1,634 333.9,629.7" fill="none" stroke="#00ff00" stroke-width="2.2" stroke-linejoin="round" stroke-linecap="round"/>
<polyline points="333.9,629.7 341.5,631.9 352.2,638.3 360.8,642.6 371.6,643.9 382.4,646.9 400,651.9 390,649.1 405.1,653.4" fill="none" stroke="#ff0000" stroke-width="2.2" stroke-linejoin="round" stroke-linecap="round"/>
<polyline points="405.1,653.4 418,644.3 433,627.1 451.3,612.7" fill="none" stroke="#00ff00" stroke-width="2.2" stroke-linejoin="round" stroke-linecap="round"/>
<polyline points="451.3,612.7 461,614.6 476.1,620.2 497.6,626.7 512.6,632.5 523.4,635.7 535.2,636.2" fill="none" stroke="#ff0000" stroke-width="2.2" stroke-linejoin="round" stroke-linecap="round"/>
<polyline points="535.2,636.2 541.7,636.2" fill="none" stroke="#00ff00" stroke-width="2.2" stroke-linejoin="round" stroke-linecap="round"/>
<polyline points="541.7,636.2 553.5,639.6 567.5,646.1" fill="none" stroke="#ff0000" stroke-width="2.2" stroke-linejoin="round" stroke-linecap="round"/>
<polyline points="567.5,646.1 575,641.1" fill="none" stroke="#00ff00" stroke-width="2.2" stroke-linejoin="round" stroke-linecap="round"/>
<polyline points="575,641.1 583.6,647.6 592.2,661.5 600.8,678.8 609.4,689.5 618.1,695.5" fill="none" stroke="#ff0000" stroke-width="2.2" stroke-linejoin="round" stroke-linecap="round"/>
<polyline points="618.1,695.5 625.6,695.5" fill="none" stroke="#00ff00" stroke-width="2.2" stroke-linejoin="round" stroke-linecap="round"/>
<polyline points="625.6,695.5 633.1,696.6" fill="none" stroke="#ff0000" stroke-width="2.2" stroke-linejoin="round" stroke-linecap="round"/>
<polyline points="633.1,696.6 641.7,688.4 651.4,684.8" fill="none" stroke="#00ff00" stroke-width="2.2" stroke-linejoin="round" stroke-linecap="round"/>
<polyline points="651.4,684.8 665.4,689.5" fill="none" stroke="#ff0000" stroke-width="2.2" stroke-linejoin="round" stroke-linecap="round"/>
<polyline points="665.4,689.5 671.8,689.1 680.4,685.2 691.2,677.7 702,671.9 719.2,662.6 729.9,658.3 743.9,646.5 749.3,644.8" fill="none" stroke="#00ff00" stroke-width="2.2" stroke-linejoin="round" stroke-linecap="round"/>
<polyline points="749.3,644.8 755.7,649.7 762.2,650.8" fill="none" stroke="#ff0000" stroke-width="2.2" stroke-linejoin="round" stroke-linecap="round"/>
<polyline points="762.2,650.8 770.8,649.7" fill="none" stroke="#00ff00" stroke-width="2.2" stroke-linejoin="round" stroke-linecap="round"/>
<polyline points="913,615.7 926.2,616.5 938.4,616.9 949.6,615.3 960.8,616.7 970.9,619.3 983.1,623 995.3,626.4 1005.5,631.1 1017.6,634.6 1031.9,638.6 1052.2,645.1 1072.5,650.2 1092.8,655.5 1113.1,660 1133.4,664.4 1152.7,669.1 1163.9,670.5 1184.2,671.1 1198.4,673.2 1214.6,676.6 1234.9,680.7 1255.2,685.3 1270,686.4 1286.2,688 1310.6,688.4 1339,688.4 1355.3,687.8 1377.6,687.6 1400,687.2 1412.2,686.4 1432.5,684.9 1452.8,683.3 1479.2,680.3 1501.5,677.2 1525.9,671.7 1548.2,667.7 1570.6,666 1586.8,666.5 1599,665 1616.3,663" fill="none" stroke="#2451b5" stroke-width="1" stroke-linejoin="round" stroke-linecap="round"/>
<polyline points="913,614.9 926.2,615.9 938.4,616.7 949.6,614.7 958.7,616.3 970.9,620.4 983.1,624.4 995.3,629.5 1005.5,636.6 1017.6,642.1 1031.9,647.8 1052.2,655.9 1072.5,662 1092.8,668.1 1113.1,673.2 1133.4,678.2 1152.7,683.9 1163.9,684.9 1184.2,684.7 1198.4,686.4 1210.6,689.4 1224.8,692 1245.1,697.5 1259.7,700.6 1270,701.6 1286.2,702.2 1300.5,701.6 1322.8,700.2 1339,698.5 1355.3,697.1 1377.6,696.1 1400,694.5 1412.2,693.5 1432.5,689.4 1452.8,686.4 1479.2,681.9 1501.5,676.8 1525.9,670.1 1548.2,664.6 1570.6,662.4 1582.8,663.4 1592.9,662.4 1616.3,658.3" fill="none" stroke="#d9522e" stroke-width="1" stroke-linejoin="round" stroke-linecap="round"/>
<polyline points="913,619.3 926.2,621 938.4,621.4 949.6,617.9 958.7,620.4 970.9,625.4 983.1,633.6 995.3,640.7 1005.5,650.8 1017.6,657.9 1031.9,666 1044,673.2 1064.3,681.3 1092.8,690.4 1113.1,695.5 1131.4,698.5 1141.5,701.6 1152.7,705 1163.9,705 1174,702.6 1186.2,701 1198.4,702.6 1210.6,705.7 1224.8,708.7 1241,713.2 1255.2,716.8 1267.4,717.2 1270,717.2 1286.2,716.4 1300.5,713.8 1312.6,711.1 1330.9,707.1 1355.3,702.2 1377.6,699.6 1400,696.1 1412.2,694.5 1432.5,689.4 1452.8,684.3 1479.2,678.2 1503.5,669.1 1525.9,659.3 1548.2,651.8 1562.4,650.6 1570.6,650.8 1582.8,653.1 1592.9,652.8 1603.1,651.4 1616.3,648.4" fill="none" stroke="#0f7f7a" stroke-width="1" stroke-linejoin="round" stroke-linecap="round"/>
<polyline points="913,628.5 926.2,629.5 938.4,628.9 949.6,619.7 958.7,624.4 970.9,635.6 983.1,648.8 995.3,661 1005.5,679.3 1017.6,688.4 1029.8,694.5 1040,701.6 1053.2,708.3 1064.3,710.3 1072.5,710.7 1084.7,713.2 1096.8,715.8 1113.1,716.8 1130.3,716.4 1141.5,720.5 1152.7,724.5 1163.9,719.9 1174,712.8 1186.2,706.7 1198.4,707.7 1208.5,714.4 1220.7,716.8 1234.9,721.9 1255.2,728 1267.4,728.4 1270,727 1286.2,721.9 1300.5,714.4 1310.6,710.7 1324.8,706.7 1339,701.6 1355.3,694.5 1367.5,693.5 1383.7,690.8 1400,688.4 1412.2,686 1424.3,680.3 1434.5,676.2 1446.7,672.1 1460.9,669.1 1479.2,664 1501.5,653.9 1525.9,640.1 1548.2,631.5 1558.4,632.5 1570.6,636 1582.8,643.7 1592.9,645.3 1616.3,638.4" fill="none" stroke="#e026e0" stroke-width="1" stroke-linejoin="round" stroke-linecap="round"/>
<polyline points="913,637 926.2,637.6" fill="none" stroke="#ff0000" stroke-width="2.2" stroke-linejoin="round" stroke-linecap="round"/>
<polyline points="926.2,637.6 938.4,634.6 949.6,622.4 960.8,621.4" fill="none" stroke="#00ff00" stroke-width="2.2" stroke-linejoin="round" stroke-linecap="round"/>
<polyline points="960.8,621.4 973,634.6 983.1,655.9 995.3,676.2 1005.5,704.6 1017.6,724.9 1027.8,734.1 1040,740.2 1051.1,742.8" fill="none" stroke="#ff0000" stroke-width="2.2" stroke-linejoin="round" stroke-linecap="round"/>
<polyline points="1051.1,742.8 1062.3,739.8 1074.5,732.1 1086.7,725.4 1100.9,720.9 1113.1,717.2 1121.2,715.8 1130.3,715.2" fill="none" stroke="#00ff00" stroke-width="2.2" stroke-linejoin="round" stroke-linecap="round"/>
<polyline points="1130.3,715.2 1141.5,719.9 1152.7,726" fill="none" stroke="#ff0000" stroke-width="2.2" stroke-linejoin="round" stroke-linecap="round"/>
<polyline points="1152.7,726 1163.9,724.5 1174,713.8 1186.2,703.6 1198,700.6" fill="none" stroke="#00ff00" stroke-width="2.2" stroke-linejoin="round" stroke-linecap="round"/>
<polyline points="1198,700.6 1210.6,709.7 1224.8,719.9 1239,731 1254.2,742.2 1265.4,744.8" fill="none" stroke="#ff0000" stroke-width="2.2" stroke-linejoin="round" stroke-linecap="round"/>
<polyline points="1265.4,744.8 1280,738.1 1277.1,740.8 1288.3,733.1 1298.4,720.9 1310.6,707.7 1322.8,697.5 1333,690.8 1343.1,684.7 1355.3,679.9" fill="none" stroke="#00ff00" stroke-width="2.2" stroke-linejoin="round" stroke-linecap="round"/>
<polyline points="1355.3,679.9 1367.5,680.3 1383.7,682.3 1400,683.3" fill="none" stroke="#ff0000" stroke-width="2.2" stroke-linejoin="round" stroke-linecap="round"/>
<polyline points="1400,683.3 1412.2,682.7 1424.3,677.2 1434.5,673.2 1446.7,667.1 1458.9,662 1479.2,655.5 1491.4,649.8 1503.5,641.7 1513.7,633.6 1525.9,624.4 1536,617.9 1547.2,612.8" fill="none" stroke="#00ff00" stroke-width="2.2" stroke-linejoin="round" stroke-linecap="round"/>
<polyline points="1547.2,612.8 1558.4,615.9 1570.6,624.4 1580.7,638.6 1592.9,649.4 1603.1,650.8" fill="none" stroke="#ff0000" stroke-width="2.2" stroke-linejoin="round" stroke-linecap="round"/>
<polyline points="1603.1,650.8 1616.3,645.1" fill="none" stroke="#00ff00" stroke-width="2.2" stroke-linejoin="round" stroke-linecap="round"/>
<rect x="8" y="847" width="5" height="11" fill="#14443f"/>
<rect x="14" y="843" width="5" height="15" fill="#14443f"/>
<rect x="20" y="842" width="5" height="16" fill="#14443f"/>
<rect x="28" y="842" width="5" height="16" fill="#394341"/>
<rect x="34" y="843" width="5" height="15" fill="#394341"/>
<rect x="40" y="842" width="5" height="16" fill="#394341"/>
<rect x="46" y="841" width="5" height="17" fill="#14443f"/>
<rect x="54" y="842" width="5" height="16" fill="#394341"/>
<rect x="60" y="843" width="5" height="15" fill="#394341"/>
<rect x="66" y="843" width="5" height="15" fill="#394341"/>
<rect x="72" y="843" width="5" height="15" fill="#394341"/>
<rect x="80" y="847" width="5" height="11" fill="#394341"/>
<rect x="86" y="849" width="5" height="9" fill="#394341"/>
<rect x="92" y="850" width="5" height="8" fill="#394341"/>
<rect x="98" y="854" width="5" height="4" fill="#394341"/>
<rect x="106" y="858" width="5" height="1" fill="#521b1f"/>
<rect x="112" y="858" width="5" height="7" fill="#521b1f"/>
<rect x="118" y="858" width="5" height="9" fill="#521b1f"/>
<rect x="124" y="858" width="5" height="10" fill="#521b1f"/>
<rect x="132" y="858" width="5" height="10" fill="#574546"/>
<rect x="138" y="858" width="5" height="5" fill="#574546"/>
<rect x="144" y="858" width="5" height="5" fill="#574546"/>
<rect x="150" y="858" width="5" height="7" fill="#521b1f"/>
<rect x="158" y="858" width="5" height="10" fill="#521b1f"/>
<rect x="164" y="858" width="5" height="14" fill="#521b1f"/>
<rect x="170" y="858" width="5" height="16" fill="#521b1f"/>
<rect x="176" y="858" width="5" height="16" fill="#521b1f"/>
<rect x="184" y="858" width="5" height="13" fill="#574546"/>
<rect x="190" y="858" width="5" height="11" fill="#574546"/>
<rect x="196" y="858" width="5" height="6" fill="#574546"/>
<rect x="202" y="858" width="5" height="1" fill="#574546"/>
<rect x="210" y="854" width="5" height="4" fill="#14443f"/>
<rect x="216" y="848" width="5" height="10" fill="#14443f"/>
<rect x="222" y="846" width="5" height="12" fill="#14443f"/>
<rect x="228" y="845" width="5" height="13" fill="#14443f"/>
<rect x="236" y="843" width="5" height="15" fill="#14443f"/>
<rect x="242" y="841" width="5" height="17" fill="#14443f"/>
<rect x="248" y="842" width="5" height="16" fill="#394341"/>
<rect x="254" y="842" width="5" height="16" fill="#394341"/>
<rect x="262" y="842" width="5" height="16" fill="#14443f"/>
<rect x="268" y="844" width="5" height="14" fill="#394341"/>
<rect x="274" y="842" width="5" height="16" fill="#14443f"/>
<rect x="280" y="841" width="5" height="17" fill="#14443f"/>
<rect x="288" y="841" width="5" height="17" fill="#394341"/>
<rect x="294" y="843" width="5" height="15" fill="#394341"/>
<rect x="300" y="845" width="5" height="13" fill="#394341"/>
<rect x="306" y="846" width="5" height="12" fill="#394341"/>
<rect x="314" y="848" width="5" height="10" fill="#394341"/>
<rect x="320" y="851" width="5" height="7" fill="#394341"/>
<rect x="326" y="851" width="5" height="7" fill="#14443f"/>
<rect x="332" y="853" width="5" height="5" fill="#394341"/>
<rect x="340" y="858" width="5" height="1" fill="#521b1f"/>
<rect x="346" y="858" width="5" height="6" fill="#521b1f"/>
<rect x="352" y="858" width="5" height="10" fill="#521b1f"/>
<rect x="358" y="858" width="5" height="13" fill="#521b1f"/>
<rect x="366" y="858" width="5" height="12" fill="#574546"/>
<rect x="372" y="858" width="5" height="14" fill="#521b1f"/>
<rect x="378" y="858" width="5" height="18" fill="#521b1f"/>
<rect x="384" y="858" width="5" height="18" fill="#521b1f"/>
<rect x="392" y="858" width="5" height="18" fill="#521b1f"/>
<rect x="398" y="858" width="5" height="19" fill="#521b1f"/>
<rect x="404" y="858" width="5" height="20" fill="#521b1f"/>
<rect x="410" y="858" width="5" height="14" fill="#574546"/>
<rect x="418" y="858" width="5" height="9" fill="#574546"/>
<rect x="424" y="858" width="5" height="3" fill="#574546"/>
<rect x="430" y="858" width="5" height="0" fill="#14443f"/>
<rect x="436" y="854" width="5" height="4" fill="#14443f"/>
<rect x="444" y="852" width="5" height="6" fill="#14443f"/>
<rect x="450" y="851" width="5" height="7" fill="#14443f"/>
<rect x="456" y="855" width="5" height="3" fill="#394341"/>
<rect x="462" y="856" width="5" height="2" fill="#394341"/>
<rect x="470" y="858" width="5" height="1" fill="#394341"/>
<rect x="476" y="858" width="5" height="1" fill="#521b1f"/>
<rect x="482" y="858" width="5" height="3" fill="#521b1f"/>
<rect x="488" y="858" width="5" height="5" fill="#521b1f"/>
<rect x="496" y="858" width="5" height="7" fill="#521b1f"/>
<rect x="502" y="858" width="5" height="8" fill="#521b1f"/>
<rect x="508" y="858" width="5" height="10" fill="#521b1f"/>
<rect x="514" y="858" width="5" height="12" fill="#521b1f"/>
<rect x="522" y="858" width="5" height="12" fill="#521b1f"/>
<rect x="528" y="858" width="5" height="12" fill="#574546"/>
<rect x="534" y="858" width="5" height="12" fill="#574546"/>
<rect x="540" y="858" width="5" height="11" fill="#574546"/>
<rect x="548" y="858" width="5" height="14" fill="#521b1f"/>
<rect x="554" y="858" width="5" height="14" fill="#521b1f"/>
<rect x="560" y="858" width="5" height="15" fill="#521b1f"/>
<rect x="566" y="858" width="5" height="15" fill="#574546"/>
<rect x="574" y="858" width="5" height="6" fill="#574546"/>
<rect x="580" y="858" width="5" height="14" fill="#521b1f"/>
<rect x="586" y="858" width="5" height="20" fill="#521b1f"/>
<rect x="592" y="858" width="5" height="28" fill="#521b1f"/>
<rect x="600" y="858" width="5" height="31" fill="#521b1f"/>
<rect x="606" y="858" width="5" height="30" fill="#574546"/>
<rect x="612" y="858" width="5" height="28" fill="#574546"/>
<rect x="618" y="858" width="5" height="24" fill="#574546"/>
<rect x="626" y="858" width="5" height="21" fill="#574546"/>
<rect x="632" y="858" width="5" height="20" fill="#574546"/>
<rect x="638" y="858" width="5" height="9" fill="#574546"/>
<rect x="644" y="858" width="5" height="6" fill="#574546"/>
<rect x="652" y="858" width="5" height="6" fill="#574546"/>
<rect x="658" y="858" width="5" height="7" fill="#521b1f"/>
<rect x="664" y="858" width="5" height="5" fill="#574546"/>
<rect x="670" y="858" width="5" height="1" fill="#574546"/>
<rect x="678" y="852" width="5" height="6" fill="#14443f"/>
<rect x="684" y="848" width="5" height="10" fill="#14443f"/>
<rect x="690" y="844" width="5" height="14" fill="#14443f"/>
<rect x="696" y="843" width="5" height="15" fill="#14443f"/>
<rect x="704" y="842" width="5" height="16" fill="#14443f"/>
<rect x="710" y="840" width="5" height="18" fill="#14443f"/>
<rect x="716" y="838" width="5" height="20" fill="#14443f"/>
<rect x="722" y="838" width="5" height="20" fill="#394341"/>
<rect x="730" y="836" width="5" height="22" fill="#14443f"/>
<rect x="736" y="834" width="5" height="24" fill="#14443f"/>
<rect x="742" y="833" width="5" height="25" fill="#14443f"/>
<rect x="748" y="836" width="5" height="22" fill="#394341"/>
<rect x="756" y="845" width="5" height="13" fill="#394341"/>
<rect x="762" y="845" width="5" height="13" fill="#14443f"/>
<rect x="768" y="845" width="5" height="13" fill="#14443f"/>
<rect x="911" y="836" width="10" height="7" fill="#574546"/>
<rect x="923" y="836" width="10" height="6" fill="#574546"/>
<rect x="935" y="836" width="10" height="3" fill="#574546"/>
<rect x="945" y="828" width="10" height="8" fill="#14443f"/>
<rect x="957" y="834" width="10" height="2" fill="#394341"/>
<rect x="969" y="836" width="10" height="9" fill="#521b1f"/>
<rect x="979" y="836" width="10" height="18" fill="#521b1f"/>
<rect x="991" y="836" width="10" height="22" fill="#521b1f"/>
<rect x="1001" y="836" width="10" height="33" fill="#521b1f"/>
<rect x="1013" y="836" width="10" height="32" fill="#574546"/>
<rect x="1025" y="836" width="10" height="28" fill="#574546"/>
<rect x="1035" y="836" width="10" height="27" fill="#574546"/>
<rect x="1047" y="836" width="10" height="24" fill="#574546"/>
<rect x="1059" y="836" width="10" height="18" fill="#574546"/>
<rect x="1069" y="836" width="10" height="12" fill="#574546"/>
<rect x="1081" y="836" width="10" height="8" fill="#574546"/>
<rect x="1093" y="836" width="10" height="6" fill="#574546"/>
<rect x="1103" y="836" width="10" height="2" fill="#574546"/>
<rect x="1115" y="833" width="10" height="3" fill="#14443f"/>
<rect x="1125" y="831" width="10" height="5" fill="#14443f"/>
<rect x="1137" y="832" width="10" height="4" fill="#394341"/>
<rect x="1149" y="833" width="10" height="3" fill="#394341"/>
<rect x="1159" y="826" width="10" height="10" fill="#14443f"/>
<rect x="1171" y="818" width="10" height="18" fill="#14443f"/>
<rect x="1183" y="815" width="10" height="21" fill="#14443f"/>
<rect x="1193" y="817" width="10" height="19" fill="#394341"/>
<rect x="1205" y="825" width="10" height="11" fill="#394341"/>
<rect x="1217" y="826" width="10" height="10" fill="#394341"/>
<rect x="1227" y="830" width="10" height="6" fill="#394341"/>
<rect x="1239" y="832" width="10" height="4" fill="#394341"/>
<rect x="1251" y="834" width="10" height="2" fill="#394341"/>
<rect x="1261" y="833" width="10" height="3" fill="#14443f"/>
<rect x="1273" y="829" width="10" height="7" fill="#14443f"/>
<rect x="1283" y="825" width="10" height="11" fill="#14443f"/>
<rect x="1295" y="820" width="10" height="16" fill="#14443f"/>
<rect x="1307" y="818" width="10" height="18" fill="#14443f"/>
<rect x="1317" y="817" width="10" height="19" fill="#14443f"/>
<rect x="1329" y="816" width="10" height="20" fill="#14443f"/>
<rect x="1341" y="815" width="10" height="21" fill="#14443f"/>
<rect x="1351" y="815" width="10" height="21" fill="#14443f"/>
<rect x="1363" y="819" width="10" height="17" fill="#394341"/>
<rect x="1375" y="820" width="10" height="16" fill="#394341"/>
<rect x="1385" y="822" width="10" height="14" fill="#394341"/>
<rect x="1397" y="823" width="10" height="13" fill="#394341"/>
<rect x="1409" y="824" width="10" height="12" fill="#394341"/>
<rect x="1419" y="823" width="10" height="13" fill="#14443f"/>
<rect x="1431" y="824" width="10" height="12" fill="#394341"/>
<rect x="1441" y="822" width="10" height="14" fill="#14443f"/>
<rect x="1453" y="823" width="10" height="13" fill="#394341"/>
<rect x="1465" y="825" width="10" height="11" fill="#394341"/>
<rect x="1475" y="825" width="10" height="11" fill="#394341"/>
<rect x="1487" y="824" width="10" height="12" fill="#14443f"/>
<rect x="1499" y="822" width="10" height="14" fill="#14443f"/>
<rect x="1509" y="821" width="10" height="15" fill="#14443f"/>
<rect x="1521" y="820" width="10" height="16" fill="#14443f"/>
<rect x="1533" y="821" width="10" height="15" fill="#394341"/>
<rect x="1543" y="823" width="10" height="13" fill="#394341"/>
<rect x="1555" y="829" width="10" height="7" fill="#394341"/>
<rect x="1567" y="836" width="10" height="1" fill="#394341"/>
<rect x="1577" y="836" width="10" height="9" fill="#521b1f"/>
<rect x="1589" y="836" width="10" height="11" fill="#521b1f"/>
<rect x="1599" y="836" width="10" height="8" fill="#574546"/>
<rect x="1611" y="836" width="10" height="5" fill="#574546"/>
<line x1="9" y1="858.5" x2="839" y2="858.5" stroke="#5d5f66" stroke-width="1" stroke-dasharray="5,6"/>
<line x1="913" y1="836.5" x2="1735" y2="836.5" stroke="#5d5f66" stroke-width="1" stroke-dasharray="5,6"/>
<polyline points="8,864.3 18.8,857.9 29.5,851.4 42.4,845 53.2,837.5 63.9,831 74.7,824.1 85.5,819.8 96.2,817 104.8,816.4 115.6,818.5 126.3,822 137.1,825.6 150,828.4 160.8,832.1 171.5,838.5 184.4,845 197.3,847.8 208.1,847.1 218.8,843.9 231.8,837.5 244.7,828.8 255.4,822 268.3,814.9 281.2,806.3 294.1,798.3 304.9,792.7 315.7,788.4 326.4,785.8 337.2,783.7 345.8,784.3 358.7,789 373.7,796.1 386.7,804.8 390,806.9 400.8,813.8 411.5,821.3 422.3,824.1 433,824.1 448.1,819.8 461,817.7 476.1,817.7 489,819.2 504,822.4 519.1,828.8 540.6,837.5 553.5,843.9 568.6,851.4 577.2,854.2 583.6,859 594.4,869.7 605.1,880.5 615.9,891.2 626.7,899.8 635.3,904.8 648.2,908 661.1,910.2 671.8,911 682.6,908.5 695.5,901.6 708.4,893.4 721.3,884.4 734.2,873.6 747.1,858.5 755.7,854.7 770.8,847.1" fill="none" stroke="#f23645" stroke-width="2" stroke-linejoin="round" stroke-linecap="round"/>
<polyline points="8,853.6 14.5,846.1 23.1,839.2 31.7,834.2 42.4,829.9 48.9,821.3 57.5,818.5 66.1,813.8 74.7,809.5 82.2,810.8 94.1,809.5 102.7,813.4 113.4,824.1 124.2,830.6 132.8,833.6 139.2,829.9 145.7,829.9 156.5,836.4 165.1,846.1 178,855.3 190.9,855.3 197.3,852.9 205.9,847.1 216.7,834.9 227.4,826.7 236.1,820.2 244.7,811.6 255.4,806.3 264,800.9 269.4,799.8 279.1,790.1 287.7,784.1 300.6,781.5 309.2,779.4 320,779.4 328.6,777.2 335,778.3 343.6,787.5 352.2,796.6 360.8,802.6 367.3,804.1 373.7,809.5 380.2,817 388.8,823.5 390,824.1 405.1,837 418,832.1 428.7,824.5 441.6,816.4 451.3,811.6 458.8,814.9 471.8,817 484.7,821.3 501.9,828.4 516.9,838.5 527.7,842.8 542.8,848.2 553.5,855.7 568.6,864.8 575,858.5 583.6,874 592.2,890.2 600.8,905.2 613.8,916 626.7,919.6 633.1,922.9 639.6,914.5 648.2,912.8 660,916 666.5,914.9 676.1,907.4 691.2,889.1 704.1,879.4 714.9,866.5 725.6,859 742.8,837.5 749.3,835.7 756.8,840.9 770.8,833.6" fill="none" stroke="#00bcd4" stroke-width="2" stroke-linejoin="round" stroke-linecap="round"/>
<polyline points="913,853 928.3,855 939.4,855.5 950,853.8 961.8,853.4 973,855 983.1,858.9 995.3,864.2 1006.5,871.7 1017.6,879.8 1029.8,887.5 1040,894 1051.6,899.7 1064.3,904.2 1074.5,906.6 1086.7,908.7 1096.8,909.9 1109,909.7 1119.2,908.7 1130.6,907.6 1141.5,906.8 1152.7,906.2 1163.9,904.2 1176,899.1 1187.2,894 1198.4,889.6 1209.6,886.9 1220.7,884.3 1232.9,882.5 1243.5,881.9 1254.6,881.4 1266,880.4 1270,880.2 1286.2,876.8 1300.5,871.7 1322.8,862.6 1341.1,854.4 1357.3,847.3 1375.6,840.2 1400,833.1 1424.3,826 1444.7,819.9 1465,814.4 1485.3,809.4 1503.5,803.7 1523.9,796.6 1536,792.5 1548.2,790.5 1560.4,789 1570.6,789 1580.7,790.5 1592.9,793.5 1605.1,795.7 1616.3,796.6" fill="none" stroke="#f23645" stroke-width="2" stroke-linejoin="round" stroke-linecap="round"/>
<polyline points="913,859.1 928.3,859.9 939.4,857.5 950,846.3 961.8,851.4 970.9,861.5 983.1,875.8 995.3,886.3 1006.5,904.8 1017.6,911.3 1029.8,915.4 1040,919.8 1051.6,922.5 1062.3,921.5 1074.5,917 1086.7,915.4 1096.8,914.3 1109,910.3 1119.2,906.2 1130.6,902.8 1141.5,903.4 1152.7,903.6 1163.9,894.6 1176,881.4 1187.2,873.1 1198.4,870.7 1209.6,875.8 1220.7,875.2 1232.9,877.2 1243.5,878.8 1254.6,879.8 1266,877.8 1270,876.2 1288.3,866 1300.5,856.5 1312.6,849.4 1326.9,842.3 1341.1,834.1 1356.3,827.6 1367.5,827 1383.7,823.4 1400,820.9 1412.2,818.9 1424.3,813.8 1444.7,807.1 1458.9,804.3 1467,803.7 1481.2,800.6 1493.4,796.1 1507.6,789.4 1523.9,782.3 1534,779.7 1547.2,777.7 1558.4,782.3 1568.5,788.4 1581.7,800.2 1592.9,803.9 1605.1,802.6 1616.3,800" fill="none" stroke="#00bcd4" stroke-width="2" stroke-linejoin="round" stroke-linecap="round"/>
<line x1="9" y1="972.5" x2="839" y2="972.5" stroke="#8a8c93" stroke-width="1" stroke-dasharray="5,6"/>
<line x1="9" y1="1040.5" x2="839" y2="1040.5" stroke="#8a8c93" stroke-width="1" stroke-dasharray="5,6"/>
<line x1="913" y1="968.5" x2="1735" y2="968.5" stroke="#8a8c93" stroke-width="1" stroke-dasharray="5,6"/>
<line x1="913" y1="1035.5" x2="1735" y2="1035.5" stroke="#8a8c93" stroke-width="1" stroke-dasharray="5,6"/>
<polyline points="8,996.1 15.5,962.1 22,960.6 28.4,963.8 34.9,972.4 41.3,991.8 47.8,995.7 54.3,1012.9 60.7,1012.2 68.2,1017.2 73.6,1005.8 81.1,1004.7 94.1,988.1 100.5,990.7 107,1015.5 113.4,1040.2 118.8,1038.7 125.3,1029.4 132.8,1011.1 139.2,991.4 145.7,979.5 152.1,995 158.6,1021.9 165.1,1049.9 172.6,1055.3 178,1054.8 184.4,1039.1 190.9,1019.8 197.3,996.1 203.8,976.7 210.2,966 216.7,954.6 224.2,954.6 229.6,968.1 237.1,977.8 243.6,978.2 255.4,967 261.9,966.4 269.4,969.2 274.8,964.9 282.3,963.2 288.8,952.6 295.2,960.2 302.8,960.8 307.1,958.9 315.7,955.9 321,959.5 326.4,960.6 332.9,963.8 341.5,987.5 347.9,1015.5 354.4,1039.1 360.2,1046.9 367.3,1032.7 373.1,1019.1 380.2,1021.9 386.7,1035.9 393.1,1047.7 390,1040.8 393.2,1047.7 398.6,1039.1 406.1,1047.3 412.6,1015.5 419,991.8 424.4,956.9 432,955.6 438.4,951.6 445.9,953.1 451.3,953.5 457.8,986.4 464.2,1004.7 471.3,1025.1 476.1,1011.1 483.6,1009 490,1007.5 496.5,1016.5 503,1027.9 509.4,1040.8 516.9,1042.3 523.4,1043.9 529.8,1038 536.3,1028.4 542.1,1018.7 549.2,1025.1 555.7,1037.4 562.1,1056.8 568.6,1050.5 574.6,1018 580.4,1015.9 586.9,1020.8 594,1053.5 600.8,1049.9 607.3,1041.3 614.8,1031.6 620.2,1004.7 626.7,986.8 633.1,1003 639.6,998.9 646,1009.4 652.5,999.7 658.9,1031.6 666,1038 671.8,1030.5 678.3,996.1 684.8,974.6 691.9,959.5 698.7,965.5 706.3,964.5 712.7,961.7 718.1,957.4 724.6,956.7 732.1,957.8 738.5,956.9 743.9,955.6 750.4,975.7 756.8,1013.3 763.3,1020.2 770.4,1005.1" fill="none" stroke="#0b8d0b" stroke-width="2" stroke-linejoin="round" stroke-linecap="round"/>
<polyline points="8,1023 15.5,992.9 22,972.4 28.4,962.7 34.9,966 41.3,974.6 47.8,987.5 54.3,1000.4 61.8,1009 68.2,1013.9 81.1,1009 87.6,1002.5 100.5,992.2 107,998.2 113.4,1015.5 119.9,1030.9 125.9,1035.9 132.8,1026.2 139.2,1011.1 145.7,995 151.7,989 158.6,1000.4 165.1,1023 171.5,1043.4 178,1053.1 184.4,1047.7 190.9,1034.8 197.3,1015.5 203.8,995 210.2,977.8 216.7,964.5 224.2,957.4 229.6,959.5 237.1,968.1 243.6,975.2 250,976.3 255.4,973.5 262.9,968.6 269.4,967 274.8,966.4 282.3,965.1 288.8,960.2 295.2,958.4 301.7,958 308.1,959.5 315.7,958.4 322.1,958 328.6,959.1 335,962.1 341.5,971.3 347.9,991.8 354.4,1013.3 360.2,1033.3 366.6,1038.5 373.7,1030.5 380.2,1024.1 386.7,1025.1 393.1,1034.8 390,1030.5 395.4,1037 400.8,1041.3 406.1,1044.5 412.6,1034.8 419,1018.7 424.4,988.6 430.9,972.4 437.3,954.8 443.8,953.5 451.3,953.1 457.8,964.9 464.2,984.3 470.7,1005.8 476.1,1013.3 483.6,1015 490,1009.4 496.5,1011.8 503,1018.7 510.5,1030.5 516.9,1038.7 523.4,1042.8 529.8,1041.9 536.3,1037.4 542.1,1029.4 549.2,1025.1 555.7,1028.4 562.1,1039.1 568.1,1048.8 575,1042.3 581.5,1028.4 587.5,1019.3 594.4,1032.7 600.8,1043.4 606.9,1048.4 613.8,1040.6 620.2,1024.1 626.7,1007.9 633.1,998.2 639.6,996.1 646,1003.6 652.5,1002.5 658.9,1013.3 666,1023 671.8,1032.7 678.3,1020.8 684.8,999.3 691.2,976.7 698.7,966.6 705.2,963.4 711.6,964.5 719.2,961.2 725.6,958.4 732.1,957.8 738.5,957.4 744.6,957.4 750.4,963.4 756.8,983.2 763.3,1003.6 770.4,1013.3" fill="none" stroke="#ff1a1a" stroke-width="2" stroke-linejoin="round" stroke-linecap="round"/>
<polyline points="913,1027.4 916.1,1023.3 927.3,1016.2 938.4,987.8 950,974.6 960.8,983.7 973,1011.1 983.5,1048.1 995.3,1054.4 1006.5,1056.8 1017.6,1047.3 1029.8,1026.3 1041,1009.5 1052.2,996.9 1062.3,984.7 1074.1,966.8 1084.7,967.9 1096.8,985.7 1108,994.5 1119.2,989.2 1130.3,981.3 1141.5,1005 1153.1,1029.8 1163.9,1027.4 1176,994.9 1187.2,969.5 1198.4,979.6 1209.6,1014.2 1220.7,1030.4 1232.3,1041 1243.1,1035.5 1255.2,1042 1266.4,1019.2 1270,1009.1 1277.1,989.8 1288.3,961.4 1300.1,952.6 1310.6,951.8 1321.8,959.3 1334,971.5 1345.1,977.2 1356.3,970.5 1367.5,987.4 1377.6,997.9 1390.2,1011.5 1401,991.8 1413.2,976.6 1423.9,958.7 1434.5,957.3 1445.7,954.9 1458.9,961.4 1469,964 1480.2,973.1 1491.4,969.5 1502.5,962.4 1513.7,952.2 1524.9,951.8 1536,954.9 1548.2,962.4 1558.4,989.8 1569.6,1019.2 1581.7,1053.8 1592.9,1040.6 1604.1,1016.2 1616.3,978.6" fill="none" stroke="#0b8d0b" stroke-width="2" stroke-linejoin="round" stroke-linecap="round"/>
<polyline points="913,1033.5 926.2,1026.3 938.4,1009.1 950,992.8 961.2,982.3 973,990.4 984.1,1015.2 995.3,1038.9 1006.5,1052.7 1017.6,1052.7 1029.8,1042.6 1041,1027.4 1052.2,1012.1 1063.3,996.9 1074.1,982.7 1085.1,972.9 1096.8,973.7 1108,982.7 1119.2,990.2 1130.3,988.4 1141.5,991.8 1153.1,1005 1164.5,1020.9 1176,1017.2 1187.2,996.9 1198.4,981.1 1209.6,987.8 1220.7,1008.1 1231.9,1028.4 1243.1,1036.5 1255.2,1039.5 1266.4,1031.8 1276.6,1016.2 1270,1027.4 1277.1,1016.2 1288.3,988.8 1299.4,969.5 1310.6,955.9 1321.8,955.3 1333,960.7 1345.1,969.5 1355.3,972.9 1367.5,978.6 1379.7,986.1 1389.8,998.9 1400,1000.6 1413.2,992.8 1423.3,975.6 1434.5,964.4 1446.7,956.7 1458.9,957.9 1469,959.9 1481.2,966.4 1491.4,968.9 1502.5,968.5 1513.7,961.4 1524.9,955.7 1536,952.8 1548.2,956.3 1558.4,970.5 1569.6,991.8 1581.7,1023.3 1592.9,1038.9 1604.1,1036.5 1616.3,1011.5" fill="none" stroke="#ff1a1a" stroke-width="2" stroke-linejoin="round" stroke-linecap="round"/>
<line x1="9" y1="1113.5" x2="839" y2="1113.5" stroke="#8a8c93" stroke-width="1" stroke-dasharray="5,6"/>
<line x1="9" y1="1175.5" x2="839" y2="1175.5" stroke="#8a8c93" stroke-width="1" stroke-dasharray="5,6"/>
<line x1="913" y1="1087.5" x2="1735" y2="1087.5" stroke="#8a8c93" stroke-width="1" stroke-dasharray="5,6"/>
<line x1="913" y1="1155.5" x2="1735" y2="1155.5" stroke="#8a8c93" stroke-width="1" stroke-dasharray="5,6"/>
<polyline points="8,1145.6 15.5,1132.7 27.4,1131.6 41.3,1131.6 47.8,1125.2 54.3,1122.4 60.7,1117.6 67.2,1118.1 73.6,1111.2 80.1,1109 86.5,1106.4 94.1,1105.8 99.4,1104.7 105.9,1106.9 112.3,1113.8 119.9,1115.9 126.3,1117 132.8,1114.4 139.2,1108 145.7,1104.1 152.1,1104.7 158.6,1110.1 165.1,1120.9 171.5,1125.2 178,1127.7 184.4,1123.7 190.9,1119.8 197.3,1114.4 203.8,1108 210.2,1101.5 216.7,1092.2 224.2,1087.5 231.8,1089 238.2,1090.7 244.7,1089.2 251.1,1086.4 257.6,1084.9 266.2,1084.3 276.9,1083.2 287.7,1082.1 298.4,1083.2 309.2,1082.8 320,1082.1 330.7,1082.8 339.3,1086.4 346.9,1094 353.3,1100.4 360.8,1102.6 369.4,1099.8 378.1,1101.1 386.7,1108.6 393.1,1113.8 390,1111.2 398.6,1115.1 406.1,1119.4 411.5,1114.4 419,1105.8 425.5,1092.9 432,1087.5 438.4,1082.8 448.1,1082.1 452.4,1083.6 458.8,1088.6 465.3,1091.8 471.3,1095 476.1,1092.2 486.8,1093.3 495.4,1095 503,1097.2 510.5,1101.5 516.9,1105.8 523.4,1107.5 532,1106.9 540.6,1106.9 549.2,1110.8 555.7,1114.4 562.1,1119.1 568.6,1119.8 575,1110.8 580.4,1118.7 587.9,1140.2 594.4,1170.3 600.8,1182.2 607.3,1184.8 613.8,1184.8 620.2,1181.7 626.7,1181.5 633.1,1185 639.6,1176.8 646,1174.6 652.9,1171.4 658.9,1183.9 666,1188.6 671.8,1185.4 678.3,1175.7 684.8,1166 692.3,1159.6 699.8,1157.4 710.6,1153.1 719.2,1146.7 732.1,1137 743.9,1121.5 750.4,1121.9 756.8,1133.1 763.3,1136.4 770.4,1132.3" fill="none" stroke="#0b8d0b" stroke-width="2" stroke-linejoin="round" stroke-linecap="round"/>
<polyline points="8,1156.4 14.5,1145.6 20.9,1137 28.4,1132.3 41.3,1131.6 47.8,1129 54.3,1126.7 60.7,1122.4 67.2,1119.8 73.6,1115.9 80.1,1113.3 86.5,1109 94.1,1107.3 100.5,1105.8 107,1106.2 113.4,1109 119.9,1112.7 125.3,1115.5 132.8,1115.5 139.2,1112.3 145.7,1108.4 152.1,1105.8 158.6,1106.9 165.1,1112.9 171.5,1119.4 178,1124.5 184.4,1125.2 190.9,1123.7 197.3,1119.8 203.8,1114.4 210.2,1108 216.7,1100.4 224.2,1093.3 231.8,1089.7 238.2,1089.7 244.7,1090.1 251.1,1089.2 257.6,1087.1 266.2,1085.4 276.9,1084.3 287.7,1083.2 298.4,1083.2 309.2,1083.2 320,1082.8 330.7,1082.8 340.4,1085.4 347.9,1090.7 354.4,1096.1 360.8,1100 369.4,1100.9 379.1,1100.9 386.7,1103.7 393.1,1108 390,1105.8 396.5,1110.1 402.9,1113.8 409.4,1116.1 412.6,1115.9 419,1112.3 425.5,1104.7 430.9,1097.8 437.3,1088.6 443.8,1084.9 451.3,1082.8 458.8,1085.4 465.3,1088.6 471.8,1091.8 480.4,1092.9 489,1092.9 497.6,1094 504,1095.7 510.5,1098.3 519.1,1103 527.7,1106.4 540.6,1106.4 549.2,1108 557.8,1112.3 568.6,1117.6 575,1116.6 581.5,1117.6 587.9,1124.1 594.4,1145.6 599.8,1161.7 606.2,1177.9 613.8,1183.9 622.4,1183.3 628.8,1182.6 637.4,1181.1 646,1178.3 652.5,1174.6 658.9,1177.9 665.4,1182.2 671.8,1185.8 678.3,1183.3 684.8,1176.2 691.2,1168.2 697.7,1161.3 706.3,1157.4 717,1152.7 725.6,1147.8 734.2,1141.3 742.8,1132.3 750.4,1124.5 756.8,1125.2 763.3,1130.1 770.4,1134.2" fill="none" stroke="#ff1a1a" stroke-width="2" stroke-linejoin="round" stroke-linecap="round"/>
<polyline points="913,1152.3 926.2,1154.7 938.4,1148.3 950,1125.5 960.8,1130 973,1143.8 984.1,1179.3 995.3,1185.8 1006.5,1188.5 1017.6,1180.7 1029.8,1170.6 1040,1164.9 1052.2,1166.9 1064.3,1168.2 1074.5,1163.1 1084.7,1160.8 1096.8,1162.5 1109,1164.1 1119.2,1162.5 1130.3,1160.4 1141.5,1164.5 1153.1,1170.6 1163.9,1166.9 1176,1153.7 1187.2,1141.1 1198.4,1142.8 1209.6,1157.4 1220.7,1165.5 1232.3,1172 1243.1,1171.6 1255.2,1176.1 1266.4,1173.2 1270,1171.6 1277.1,1167.5 1288.3,1159.8 1299.4,1151.7 1310.6,1146.6 1322.8,1143.2 1333,1142.2 1345.1,1139.1 1356.3,1135.5 1367.5,1135 1379.7,1134.4 1389.8,1134.6 1401,1132 1413.2,1130.2 1424.3,1124.5 1434.5,1120.4 1446.7,1114.7 1458.9,1113.9 1469,1112.7 1481.2,1111.7 1491.4,1107.6 1502.5,1101.5 1513.7,1092.4 1524.9,1085.9 1536,1082.9 1548.2,1081.6 1558.4,1086.3 1569.6,1096.1 1581.7,1111.1 1592.9,1114.1 1604.1,1108.6 1616.3,1095.9" fill="none" stroke="#0b8d0b" stroke-width="2" stroke-linejoin="round" stroke-linecap="round"/>
<polyline points="913,1150.7 926.2,1152.9 938.4,1151.7 950,1142.8 961.2,1134.6 973,1133 984.1,1151.3 995.3,1170.2 1006.5,1184.8 1017.6,1184.8 1029.8,1179.7 1040,1172 1052.2,1167.5 1064.3,1166.5 1074.5,1165.5 1084.7,1163.9 1096.8,1162.5 1109,1162.9 1119.2,1163.1 1130.3,1162.5 1141.5,1163.1 1153.1,1165.5 1164.5,1167.5 1176,1163.9 1187.2,1153.3 1198.4,1145.6 1209.6,1147.2 1220.7,1155.4 1232.9,1165.5 1243.1,1170 1255.2,1173.2 1266.4,1174 1270,1173.2 1277.1,1172.6 1288.3,1166.9 1299.4,1159.8 1310.6,1152.3 1321.8,1146.6 1333,1143.8 1345.1,1141.1 1356.3,1138.5 1367.5,1136.3 1379.7,1135 1389.8,1135.3 1401,1134 1413.2,1132.4 1424.3,1128.3 1434.5,1124.9 1446.7,1119.4 1458.9,1116.4 1469,1114.3 1481.2,1112.7 1491.4,1110.7 1502.5,1106.6 1513.7,1099.5 1524.9,1092.4 1536,1087.3 1548.2,1083.7 1558.4,1084.7 1569.6,1088.7 1581.7,1098.5 1592.9,1107.2 1604.1,1111.3 1616.3,1106.2" fill="none" stroke="#ff1a1a" stroke-width="2" stroke-linejoin="round" stroke-linecap="round"/>
<polyline points="8,1226.4 15.5,1224.2 23.1,1216.3 29.5,1210.5 36,1206.6 42.4,1204.5 47.8,1204 54.3,1206 60.7,1210.3 67.2,1208.3 74.7,1205.5 81.1,1204.5 87.6,1214.1 94.1,1221.7 100.5,1223.4 115.6,1224.2 137.1,1226.4 158.6,1228.1 169.4,1228.3 180.1,1226.6 188.7,1224.7 195.2,1224.2 199.5,1224.7 205.9,1222.3 214.5,1216.3 223.1,1210.9 231.8,1206.6 240.4,1204.5 251.1,1205.5 259.7,1207.7 270.5,1209.8 281.2,1210.9 292,1209.2 302.8,1206.6 313.5,1205.5 322.1,1205.5 332.9,1206.6 343.6,1207 356.5,1207.7 371.6,1209.2 380.2,1214.1 386.7,1221.2 393.1,1225.5 390,1223.2 398.6,1226 411.5,1228.1 430.9,1228.1 444.9,1224.9 452.4,1219.5 461,1214.1 471.8,1209.8 478.2,1206 484.7,1204 490,1204.5 497.6,1210.9 504,1219.5 514.8,1226 523.4,1228.1 532,1227.7 542.8,1226.6 549.2,1223.4 562.1,1224.2 568.6,1226.6 575,1228.1 581.5,1219.5 587.5,1213.5 594.4,1218.4 601.9,1224.9 607.3,1226.6 618.1,1226 626.7,1224.9 637.4,1226 648.2,1223.8 658.9,1220.6 669.7,1218.9 680.4,1216.3 691.2,1209.8 699.8,1206.2 710.6,1204 721.3,1205.1 729.9,1207.7 736.4,1210.9 745,1211.3 755.7,1210.3 764.4,1209.4 770.8,1209.4" fill="none" stroke="#1593a0" stroke-width="2" stroke-linejoin="round" stroke-linecap="round"/>
<polyline points="8,1218.9 15.5,1215.2 23.1,1207.7 29.5,1204.5 36,1204.5 42.4,1206 51,1211.3 60.7,1219.1 67.2,1216.9 74.7,1212 81.1,1209.2 86.5,1219.5 94.1,1227.5 104.8,1228.1 126.3,1228.3 147.8,1227.7 158.6,1226.6 171.5,1222.7 186.6,1216.7 195.2,1215.2 199.5,1215.6 205.9,1213.1 214.5,1207.7 223.1,1204.5 231.8,1204.5 238.2,1206.6 244.7,1209.8 251.1,1212 257.6,1215.2 266.2,1217.8 279.1,1220.2 287.7,1219.5 298.4,1216.7 309.2,1213.5 315.7,1212 322.1,1211.6 332.9,1213.5 341.5,1214.8 352.2,1215.6 363,1216.3 373.7,1218.9 380.2,1222.7 386.7,1227 393.1,1228.1 390,1228.1 398.6,1227.7 411.5,1224.9 422.3,1223.8 430.9,1222.7 444.9,1216.3 451.3,1210.3 458.8,1206.6 467.5,1204.5 476.1,1203.8 482.5,1205.5 489,1210.9 496.5,1219.5 503,1226.6 510.5,1228.1 523.4,1226 534.1,1227 549.2,1228.1 562.1,1228.6 568.6,1227 575,1223.8 580.4,1210.9 587.9,1206 594.4,1208.8 601.9,1216.7 607.3,1219.1 615.9,1218.7 626.7,1216.3 637.4,1217.4 648.2,1215.2 658.9,1211.6 669.7,1209.8 680.4,1207.7 691.2,1204.5 697.7,1203.8 706.3,1205.5 714.9,1208.3 725.6,1213.5 736.4,1219.5 745,1220.6 755.7,1219.5 764.4,1218.7 770.8,1218.7" fill="none" stroke="#b80d0d" stroke-width="2" stroke-linejoin="round" stroke-linecap="round"/>
<polyline points="913.1,1211.6 930.9,1209.5 951.7,1206.8 972.6,1205.7 993.4,1205.3 1005.9,1208.4 1018,1228.2 1035.1,1228.2 1056,1227.6 1076.8,1224.1 1097.7,1217.8 1118.6,1212.2 1139.4,1208.8 1160.3,1207.4 1181.1,1205.9 1202,1204.9 1222.8,1204.3 1243.7,1204.3 1264.5,1204.7 1277,1205.7 1280,1205.9 1300.9,1208.4 1321.7,1212 1334.2,1214.3 1342.6,1217.2 1355.1,1220.9 1366.5,1222.4 1380.1,1218.9 1401,1213 1413.5,1213 1426,1214.7 1446.8,1218.9 1469.8,1222.4 1488.6,1222.4 1509.4,1223 1530.3,1223 1551.1,1223 1572,1223.7 1592.8,1224.5 1605.3,1225.5 1616.8,1226.6" fill="none" stroke="#0a0ab8" stroke-width="2" stroke-linejoin="round" stroke-linecap="round"/>
<polyline points="913.1,1204.9 930.9,1204.3 951.7,1204.3 972.6,1204.7 993.4,1204.9 1005.9,1204.3 1018,1225.5 1035.1,1224.1 1056,1220.9 1076.8,1215.7 1097.7,1209.5 1118.6,1205.9 1139.4,1204.3 1160.3,1203.8 1181.1,1204.3 1202,1204.9 1222.8,1206.3 1243.7,1208 1264.5,1210.9 1277,1213 1280,1213 1300.9,1216.8 1321.7,1221.6 1334.2,1223.4 1344.7,1226.2 1355.1,1227.6 1366.5,1228.2 1378,1226.8 1401,1222.4 1413.5,1222.4 1426,1223.4 1446.8,1226.6 1467.7,1228.2 1488.6,1228.2 1530.3,1228.2 1572,1228.7 1616.8,1228.7" fill="none" stroke="#b80d0d" stroke-width="2" stroke-linejoin="round" stroke-linecap="round"/>
<rect x="0" y="0" width="7" height="1253" fill="#000"/>
<rect x="7" y="0" width="2" height="1253" fill="#2a2e39"/>
<rect x="911" y="0" width="2" height="1253" fill="#2a2e39"/>
<rect x="1807" y="0" width="5" height="1253" fill="#2a2e39"/>
<rect x="1812" y="0" width="10" height="1253" fill="#131722"/>
<rect x="0" y="81" width="1807" height="1" fill="#2a2e39"/>
<rect x="0" y="540" width="1807" height="1" fill="#2a2e39"/>
<rect x="0" y="596" width="1807" height="1" fill="#2a2e39"/>
<rect x="0" y="759" width="1807" height="1" fill="#2a2e39"/>
<rect x="0" y="938" width="1807" height="1" fill="#2a2e39"/>
<rect x="0" y="1068" width="1807" height="1" fill="#2a2e39"/>
<rect x="0" y="1200" width="1807" height="1" fill="#2a2e39"/>
<defs><clipPath id="cp0"><rect x="838" y="0" width="970" height="81"/></clipPath><clipPath id="cp1"><rect x="838" y="82" width="970" height="458"/></clipPath><clipPath id="cp2"><rect x="838" y="541" width="970" height="55"/></clipPath><clipPath id="cp3"><rect x="838" y="597" width="970" height="162"/></clipPath><clipPath id="cp4"><rect x="838" y="760" width="970" height="178"/></clipPath><clipPath id="cp5"><rect x="838" y="939" width="970" height="129"/></clipPath><clipPath id="cp6"><rect x="838" y="1069" width="970" height="131"/></clipPath><clipPath id="cp7"><rect x="838" y="1201" width="970" height="52"/></clipPath></defs>
<text x="849" y="9.7" fill="#b2b5be" font-size="12" text-anchor="start" font-weight="normal" clip-path="url(#cp0)">100.00</text>
<text x="849" y="46.8" fill="#b2b5be" font-size="12" text-anchor="start" font-weight="normal" clip-path="url(#cp0)">50.00</text>
<text x="849" y="82.8" fill="#b2b5be" font-size="12" text-anchor="start" font-weight="normal" clip-path="url(#cp0)">0.00</text>
<text x="849" y="115" fill="#b2b5be" font-size="12" text-anchor="start" font-weight="normal" clip-path="url(#cp1)">3925.00</text>
<text x="849" y="147.7" fill="#b2b5be" font-size="12" text-anchor="start" font-weight="normal" clip-path="url(#cp1)">3900.00</text>
<text x="849" y="180.4" fill="#b2b5be" font-size="12" text-anchor="start" font-weight="normal" clip-path="url(#cp1)">3875.00</text>
<text x="849" y="213.1" fill="#b2b5be" font-size="12" text-anchor="start" font-weight="normal" clip-path="url(#cp1)">3850.00</text>
<text x="849" y="245.8" fill="#b2b5be" font-size="12" text-anchor="start" font-weight="normal" clip-path="url(#cp1)">3825.00</text>
<text x="849" y="278.4" fill="#b2b5be" font-size="12" text-anchor="start" font-weight="normal" clip-path="url(#cp1)">3800.00</text>
<text x="849" y="311.1" fill="#b2b5be" font-size="12" text-anchor="start" font-weight="normal" clip-path="url(#cp1)">3775.00</text>
<text x="849" y="343.8" fill="#b2b5be" font-size="12" text-anchor="start" font-weight="normal" clip-path="url(#cp1)">3750.00</text>
<text x="849" y="376.5" fill="#b2b5be" font-size="12" text-anchor="start" font-weight="normal" clip-path="url(#cp1)">3725.00</text>
<text x="849" y="409.2" fill="#b2b5be" font-size="12" text-anchor="start" font-weight="normal" clip-path="url(#cp1)">3700.00</text>
<text x="849" y="441.9" fill="#b2b5be" font-size="12" text-anchor="start" font-weight="normal" clip-path="url(#cp1)">3675.00</text>
<text x="849" y="474.6" fill="#b2b5be" font-size="12" text-anchor="start" font-weight="normal" clip-path="url(#cp1)">3650.00</text>
<text x="849" y="507.3" fill="#b2b5be" font-size="12" text-anchor="start" font-weight="normal" clip-path="url(#cp1)">3625.00</text>
<text x="849" y="540" fill="#b2b5be" font-size="12" text-anchor="start" font-weight="normal" clip-path="url(#cp1)">3600.00</text>
<text x="849" y="620.7" fill="#b2b5be" font-size="12" text-anchor="start" font-weight="normal" clip-path="url(#cp3)">3900.00</text>
<text x="849" y="666.5" fill="#b2b5be" font-size="12" text-anchor="start" font-weight="normal" clip-path="url(#cp3)">3800.00</text>
<text x="849" y="712.7" fill="#b2b5be" font-size="12" text-anchor="start" font-weight="normal" clip-path="url(#cp3)">3700.00</text>
<text x="849" y="759" fill="#b2b5be" font-size="12" text-anchor="start" font-weight="normal" clip-path="url(#cp3)">3600.00</text>
<text x="849" y="785.2" fill="#b2b5be" font-size="12" text-anchor="start" font-weight="normal" clip-path="url(#cp4)">40.00</text>
<text x="849" y="823.5" fill="#b2b5be" font-size="12" text-anchor="start" font-weight="normal" clip-path="url(#cp4)">20.00</text>
<text x="849" y="862.6" fill="#b2b5be" font-size="12" text-anchor="start" font-weight="normal" clip-path="url(#cp4)">0.00</text>
<text x="849" y="902.6" fill="#b2b5be" font-size="12" text-anchor="start" font-weight="normal" clip-path="url(#cp4)">−20.00</text>
<text x="849" y="940.7" fill="#b2b5be" font-size="12" text-anchor="start" font-weight="normal" clip-path="url(#cp4)">−40.00</text>
<text x="849" y="975.9" fill="#b2b5be" font-size="12" text-anchor="start" font-weight="normal" clip-path="url(#cp5)">80.00</text>
<text x="849" y="1021.9" fill="#b2b5be" font-size="12" text-anchor="start" font-weight="normal" clip-path="url(#cp5)">40.00</text>
<text x="849" y="1067.7" fill="#b2b5be" font-size="12" text-anchor="start" font-weight="normal" clip-path="url(#cp5)">0.00</text>
<text x="849" y="1085.8" fill="#b2b5be" font-size="12" text-anchor="start" font-weight="normal" clip-path="url(#cp6)">100.00</text>
<text x="849" y="1116.9" fill="#b2b5be" font-size="12" text-anchor="start" font-weight="normal" clip-path="url(#cp6)">75.00</text>
<text x="849" y="1148.8" fill="#b2b5be" font-size="12" text-anchor="start" font-weight="normal" clip-path="url(#cp6)">50.00</text>
<text x="849" y="1179.6" fill="#b2b5be" font-size="12" text-anchor="start" font-weight="normal" clip-path="url(#cp6)">25.00</text>
<text x="849" y="1220.6" fill="#b2b5be" font-size="12" text-anchor="start" font-weight="normal" clip-path="url(#cp7)">0.00</text>
<text x="1745" y="9.7" fill="#b2b5be" font-size="12" text-anchor="start" font-weight="normal" clip-path="url(#cp0)">100.00</text>
<text x="1745" y="45.8" fill="#b2b5be" font-size="12" text-anchor="start" font-weight="normal" clip-path="url(#cp0)">50.00</text>
<text x="1745" y="81.8" fill="#b2b5be" font-size="12" text-anchor="start" font-weight="normal" clip-path="url(#cp0)">0.00</text>
<text x="1745" y="121.8" fill="#b2b5be" font-size="12" text-anchor="start" font-weight="normal" clip-path="url(#cp1)">3900.00</text>
<text x="1745" y="159.9" fill="#b2b5be" font-size="12" text-anchor="start" font-weight="normal" clip-path="url(#cp1)">3880.00</text>
<text x="1745" y="198.1" fill="#b2b5be" font-size="12" text-anchor="start" font-weight="normal" clip-path="url(#cp1)">3860.00</text>
<text x="1745" y="236.3" fill="#b2b5be" font-size="12" text-anchor="start" font-weight="normal" clip-path="url(#cp1)">3840.00</text>
<text x="1745" y="274.5" fill="#b2b5be" font-size="12" text-anchor="start" font-weight="normal" clip-path="url(#cp1)">3820.00</text>
<text x="1745" y="312.7" fill="#b2b5be" font-size="12" text-anchor="start" font-weight="normal" clip-path="url(#cp1)">3800.00</text>
<text x="1745" y="350.8" fill="#b2b5be" font-size="12" text-anchor="start" font-weight="normal" clip-path="url(#cp1)">3780.00</text>
<text x="1745" y="389" fill="#b2b5be" font-size="12" text-anchor="start" font-weight="normal" clip-path="url(#cp1)">3760.00</text>
<text x="1745" y="427.2" fill="#b2b5be" font-size="12" text-anchor="start" font-weight="normal" clip-path="url(#cp1)">3740.00</text>
<text x="1745" y="465.4" fill="#b2b5be" font-size="12" text-anchor="start" font-weight="normal" clip-path="url(#cp1)">3720.00</text>
<text x="1745" y="503.6" fill="#b2b5be" font-size="12" text-anchor="start" font-weight="normal" clip-path="url(#cp1)">3700.00</text>
<text x="1745" y="540.7" fill="#b2b5be" font-size="12" text-anchor="start" font-weight="normal" clip-path="url(#cp1)">3680.00</text>
<text x="1745" y="561.3" fill="#b2b5be" font-size="12" text-anchor="start" font-weight="normal" clip-path="url(#cp2)">400M</text>
<text x="1745" y="632.4" fill="#b2b5be" font-size="12" text-anchor="start" font-weight="normal" clip-path="url(#cp3)">3840.00</text>
<text x="1745" y="669.7" fill="#b2b5be" font-size="12" text-anchor="start" font-weight="normal" clip-path="url(#cp3)">3800.00</text>
<text x="1745" y="706.5" fill="#b2b5be" font-size="12" text-anchor="start" font-weight="normal" clip-path="url(#cp3)">3760.00</text>
<text x="1745" y="743.5" fill="#b2b5be" font-size="12" text-anchor="start" font-weight="normal" clip-path="url(#cp3)">3720.00</text>
<text x="1745" y="789.7" fill="#b2b5be" font-size="12" text-anchor="start" font-weight="normal" clip-path="url(#cp4)">20.00</text>
<text x="1745" y="840.5" fill="#b2b5be" font-size="12" text-anchor="start" font-weight="normal" clip-path="url(#cp4)">0.00</text>
<text x="1745" y="891.2" fill="#b2b5be" font-size="12" text-anchor="start" font-weight="normal" clip-path="url(#cp4)">−20.00</text>
<text x="1745" y="972.8" fill="#b2b5be" font-size="12" text-anchor="start" font-weight="normal" clip-path="url(#cp5)">80.00</text>
<text x="1745" y="1017.4" fill="#b2b5be" font-size="12" text-anchor="start" font-weight="normal" clip-path="url(#cp5)">40.00</text>
<text x="1745" y="1061.7" fill="#b2b5be" font-size="12" text-anchor="start" font-weight="normal" clip-path="url(#cp5)">0.00</text>
<text x="1745" y="1091.6" fill="#b2b5be" font-size="12" text-anchor="start" font-weight="normal" clip-path="url(#cp6)">75.00</text>
<text x="1745" y="1125.5" fill="#b2b5be" font-size="12" text-anchor="start" font-weight="normal" clip-path="url(#cp6)">50.00</text>
<text x="1745" y="1159.7" fill="#b2b5be" font-size="12" text-anchor="start" font-weight="normal" clip-path="url(#cp6)">25.00</text>
<text x="1745" y="1193.6" fill="#b2b5be" font-size="12" text-anchor="start" font-weight="normal" clip-path="url(#cp6)">0.00</text>
<text x="1745" y="1220.7" fill="#b2b5be" font-size="12" text-anchor="start" font-weight="normal" clip-path="url(#cp7)">0.00</text>
<rect x="839" y="207" width="59" height="31" fill="#089981" rx="2"/>
<text x="849" y="219.5" fill="#ffffff" font-size="12" text-anchor="start" font-weight="bold">3845.22</text>
<text x="849" y="233" fill="#e8f5f2" font-size="12" text-anchor="start" font-weight="normal">37:24</text>
<rect x="1735" y="214.5" width="59" height="31" fill="#089981" rx="2"/>
<text x="1745" y="227" fill="#ffffff" font-size="12" text-anchor="start" font-weight="bold">3845.22</text>
<text x="1745" y="240.5" fill="#e8f5f2" font-size="12" text-anchor="start" font-weight="normal">27:25</text>
<text x="94.3" y="1250" fill="#b2b5be" font-size="12" text-anchor="middle" font-weight="normal">19</text>
<text x="230.8" y="1250" fill="#b2b5be" font-size="12" text-anchor="middle" font-weight="normal">24</text>
<text x="321.7" y="1250" fill="#b2b5be" font-size="12" text-anchor="middle" font-weight="normal">26</text>
<text x="412.2" y="1250" fill="#b2b5be" font-size="12" text-anchor="middle" font-weight="normal">28</text>
<text x="503.6" y="1250" fill="#b2b5be" font-size="12" text-anchor="middle" font-weight="normal">Nov</text>
<text x="594.4" y="1250" fill="#b2b5be" font-size="12" text-anchor="middle" font-weight="normal">3</text>
<text x="685.4" y="1250" fill="#b2b5be" font-size="12" text-anchor="middle" font-weight="normal">7</text>
<text x="775.8" y="1250" fill="#b2b5be" font-size="12" text-anchor="middle" font-weight="normal">9</text>
<text x="1006.3" y="1250" fill="#b2b5be" font-size="12" text-anchor="middle" font-weight="normal">3</text>
<text x="1164.4" y="1250" fill="#b2b5be" font-size="12" text-anchor="middle" font-weight="normal">4</text>
<text x="1322.3" y="1250" fill="#b2b5be" font-size="12" text-anchor="middle" font-weight="normal">7</text>
<text x="1479.8" y="1250" fill="#b2b5be" font-size="12" text-anchor="middle" font-weight="normal">8</text>
<text x="1637.7" y="1250" fill="#b2b5be" font-size="12" text-anchor="middle" font-weight="normal">9</text>
<rect x="255" y="238.3" width="17" height="16.3" rx="2.5" fill="#ff9800"/>
<polygon points="260.5,254.6 266.5,254.6 263.5,257.6" fill="#ff9800"/>
<text x="263.5" y="249.8" fill="#ffffff" font-size="12" text-anchor="middle" font-weight="bold">13</text>
<rect x="231.8" y="279.6" width="11" height="15.2" rx="2.5" fill="#ff9800"/>
<polygon points="234.3,294.8 240.3,294.8 237.3,297.8" fill="#ff9800"/>
<text x="237.3" y="290" fill="#ffffff" font-size="12" text-anchor="middle" font-weight="bold">9</text>
<rect x="742.3" y="175.3" width="16.4" height="16.2" rx="2.5" fill="#ff9800"/>
<polygon points="747.5,191.5 753.5,191.5 750.5,194.5" fill="#ff9800"/>
<text x="750.5" y="186.7" fill="#ffffff" font-size="12" text-anchor="middle" font-weight="bold">13</text>
<rect x="719.5" y="234.4" width="10.1" height="14.1" rx="2.5" fill="#ff9800"/>
<polygon points="721.5,248.5 727.5,248.5 724.5,251.5" fill="#ff9800"/>
<text x="724.5" y="243.7" fill="#ffffff" font-size="12" text-anchor="middle" font-weight="bold">9</text>
<rect x="1539.1" y="173" width="18.8" height="16.8" rx="2.5" fill="#ff9800"/>
<polygon points="1545.5,189.8 1551.5,189.8 1548.5,192.8" fill="#ff9800"/>
<text x="1548.5" y="185" fill="#ffffff" font-size="12" text-anchor="middle" font-weight="bold">13</text>
<rect x="1497.2" y="201" width="12.9" height="17.6" rx="2.5" fill="#ff9800"/>
<polygon points="1500.7,218.6 1506.7,218.6 1503.7,221.6" fill="#ff9800"/>
<text x="1503.7" y="213.8" fill="#ffffff" font-size="12" text-anchor="middle" font-weight="bold">9</text>
<rect x="1361.2" y="300" width="12.6" height="17.7" rx="2.5" fill="#ff9800"/>
<polygon points="1364.5,317.7 1370.5,317.7 1367.5,320.7" fill="#ff9800"/>
<text x="1367.5" y="312.9" fill="#ffffff" font-size="12" text-anchor="middle" font-weight="bold">9</text>
<text x="432" y="147.8" fill="#f5e6b8" font-size="13" text-anchor="middle" font-weight="bold">A</text>
<text x="568" y="264" fill="#f5e6b8" font-size="13" text-anchor="middle" font-weight="bold">A</text>
<text x="711" y="257.5" fill="#f5e6b8" font-size="13" text-anchor="middle" font-weight="bold">A</text>
<text x="917" y="283.5" fill="#f5e6b8" font-size="13" text-anchor="middle" font-weight="bold">A</text>
<line x1="701" y1="128" x2="729.2" y2="156.2" stroke="#f200f2" stroke-width="3"/>
<polygon points="739.5,166.5 724,161.3 734.3,151" fill="#f200f2"/>
<line x1="776.5" y1="359" x2="758.6" y2="308.9" stroke="#f200f2" stroke-width="3"/>
<polygon points="753.7,295.2 765.5,306.5 751.7,311.4" fill="#f200f2"/>
<line x1="1506" y1="113" x2="1535.1" y2="144.3" stroke="#f200f2" stroke-width="3"/>
<polygon points="1545,155 1529.7,149.3 1540.4,139.3" fill="#f200f2"/>
<line x1="1627" y1="395.5" x2="1603.3" y2="350" stroke="#f200f2" stroke-width="3"/>
<polygon points="1596.6,337 1609.8,346.6 1596.9,353.3" fill="#f200f2"/>
<text x="17.5" y="104" fill="#d1d4dc" font-size="15.2" text-anchor="start" font-weight="normal">S&amp;P 500 Index · 1h · SP &#160;· TradingView</text>
<circle cx="306" cy="98.2" r="9" fill="#0c2a27"/>
<circle cx="306" cy="98.2" r="4.3" fill="#089981"/>
<text x="16.2" y="122.8" fill="#b2b5be" font-size="12.6" text-anchor="start" font-weight="normal">O</text>
<text x="26.5" y="122.8" fill="#089981" font-size="12.6" text-anchor="start" font-weight="normal">3837.16</text>
<text x="78.4" y="122.8" fill="#b2b5be" font-size="12.6" text-anchor="start" font-weight="normal">H</text>
<text x="87.7" y="122.8" fill="#089981" font-size="12.6" text-anchor="start" font-weight="normal">3845.92</text>
<text x="139.7" y="122.8" fill="#b2b5be" font-size="12.6" text-anchor="start" font-weight="normal">L</text>
<text x="147.3" y="122.8" fill="#089981" font-size="12.6" text-anchor="start" font-weight="normal">3837.00</text>
<text x="198.2" y="122.8" fill="#b2b5be" font-size="12.6" text-anchor="start" font-weight="normal">C</text>
<text x="207.9" y="122.8" fill="#089981" font-size="12.6" text-anchor="start" font-weight="normal">3845.22</text>
<text x="259.4" y="122.8" fill="#089981" font-size="12.6" text-anchor="start" font-weight="normal">+7.90 (+0.21%)</text>
<text x="350.5" y="122.8" fill="#b2b5be" font-size="12.6" text-anchor="start" font-weight="normal">Vol</text>
<text x="369.3" y="122.8" fill="#089981" font-size="12.6" text-anchor="start" font-weight="normal">21.921M</text>
<text x="921.5" y="104" fill="#d1d4dc" font-size="15.2" text-anchor="start" font-weight="normal">S&amp;P 500 Index · 30 · SP &#160;· TradingView</text>
<circle cx="1209.8" cy="98.2" r="9" fill="#0c2a27"/>
<circle cx="1209.8" cy="98.2" r="4.3" fill="#089981"/>
<text x="920.2" y="122.8" fill="#b2b5be" font-size="12.6" text-anchor="start" font-weight="normal">O</text>
<text x="930.5" y="122.8" fill="#089981" font-size="12.6" text-anchor="start" font-weight="normal">3837.16</text>
<text x="982.4" y="122.8" fill="#b2b5be" font-size="12.6" text-anchor="start" font-weight="normal">H</text>
<text x="991.7" y="122.8" fill="#089981" font-size="12.6" text-anchor="start" font-weight="normal">3845.92</text>
<text x="1043.7" y="122.8" fill="#b2b5be" font-size="12.6" text-anchor="start" font-weight="normal">L</text>
<text x="1051.3" y="122.8" fill="#089981" font-size="12.6" text-anchor="start" font-weight="normal">3837.00</text>
<text x="1102.2" y="122.8" fill="#b2b5be" font-size="12.6" text-anchor="start" font-weight="normal">C</text>
<text x="1111.9" y="122.8" fill="#089981" font-size="12.6" text-anchor="start" font-weight="normal">3845.22</text>
<text x="1163.4" y="122.8" fill="#089981" font-size="12.6" text-anchor="start" font-weight="normal">+7.90 (+0.21%)</text>
<text x="1254.5" y="122.8" fill="#b2b5be" font-size="12.6" text-anchor="start" font-weight="normal">Vol</text>
<text x="1273.3" y="122.8" fill="#089981" font-size="12.6" text-anchor="start" font-weight="normal">21.921M</text>
<rect x="17.5" y="133.5" width="61" height="37" rx="4" fill="#131722" stroke="#f23645" stroke-width="1.1"/>
<text x="48" y="157" fill="#f23645" font-size="12.6" text-anchor="middle" font-weight="normal">3845.22</text>
<text x="97.4" y="156.2" fill="#dfe1e8" font-size="11.2" text-anchor="middle" font-weight="bold">0.00</text>
<rect x="116.5" y="133.5" width="61" height="37" rx="4" fill="#131722" stroke="#2962ff" stroke-width="1.1"/>
<text x="147" y="157" fill="#2962ff" font-size="12.6" text-anchor="middle" font-weight="normal">3845.22</text>
<rect x="18.5" y="177.5" width="31" height="20" rx="3.5" fill="rgba(0,0,0,0.75)" stroke="#363a45" stroke-width="1"/>
<polyline points="24.6,185.6 28.6,189.4 32.6,185.6" fill="none" stroke="#d1d4dc" stroke-width="1.3"/>
<text x="38" y="191.7" fill="#d1d4dc" font-size="12.6" text-anchor="start" font-weight="normal">4</text>
<rect x="921.5" y="133.5" width="61" height="37" rx="4" fill="#131722" stroke="#f23645" stroke-width="1.1"/>
<text x="952" y="157" fill="#f23645" font-size="12.6" text-anchor="middle" font-weight="normal">3845.22</text>
<text x="1001.4" y="156.2" fill="#dfe1e8" font-size="11.2" text-anchor="middle" font-weight="bold">0.00</text>
<rect x="1020.5" y="133.5" width="61" height="37" rx="4" fill="#131722" stroke="#2962ff" stroke-width="1.1"/>
<text x="1051" y="157" fill="#2962ff" font-size="12.6" text-anchor="middle" font-weight="normal">3845.22</text>
<rect x="922.5" y="177.5" width="31" height="20" rx="3.5" fill="rgba(0,0,0,0.75)" stroke="#363a45" stroke-width="1"/>
<polyline points="928.6,185.6 932.6,189.4 936.6,185.6" fill="none" stroke="#d1d4dc" stroke-width="1.3"/>
<text x="942" y="191.7" fill="#d1d4dc" font-size="12.6" text-anchor="start" font-weight="normal">5</text>
</svg></body></html>
